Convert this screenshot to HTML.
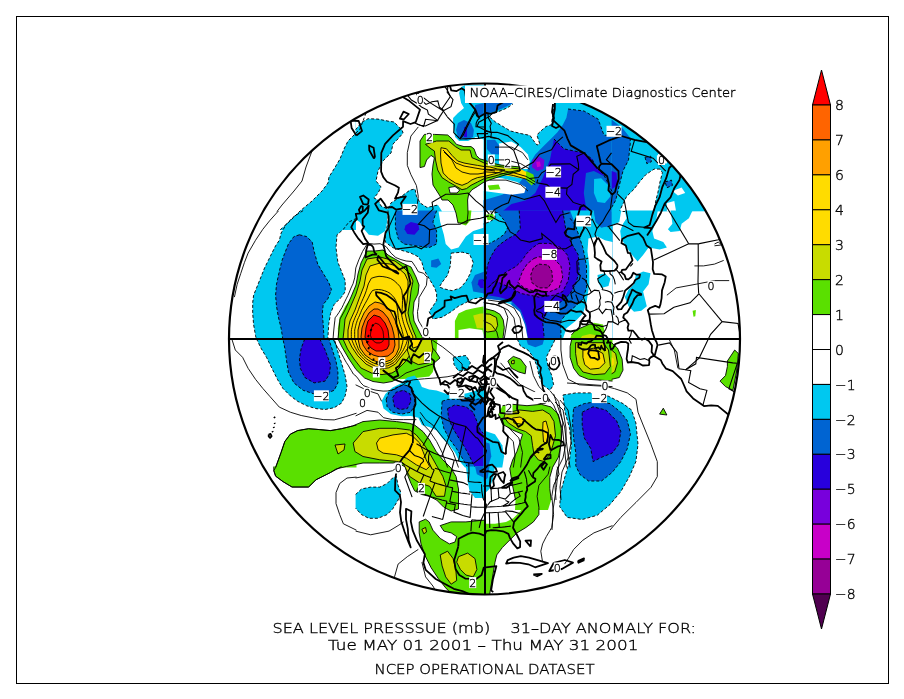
<!DOCTYPE html>
<html><head><meta charset="utf-8"><style>
html,body{margin:0;padding:0;background:#fff;}
body{width:904px;height:699px;overflow:hidden;position:relative;}
svg{position:absolute;left:0;top:0;}
text{font-family:"DejaVu Sans","Liberation Sans",sans-serif;font-weight:200;fill:#000;stroke:#000;stroke-width:0.35px;}
.cl{fill:none;stroke:#000;stroke-width:1.8;stroke-linejoin:round;}
.cp{fill:none;stroke:#000;stroke-width:0.9;}
.cn{fill:none;stroke:#000;stroke-width:0.9;stroke-dasharray:3 2;}
.bd{fill:none;stroke:#000;stroke-width:1.1;}
.fp{stroke:#000;stroke-width:0.9;}
.fn{stroke:#000;stroke-width:0.9;stroke-dasharray:3 2;}
</style></head><body>
<svg width="904" height="699" viewBox="0 0 904 699">
<defs><clipPath id="cc"><circle cx="484.5" cy="339" r="255.5"/></clipPath></defs>
<rect x="16.5" y="16.5" width="872" height="667" fill="none" stroke="#000" stroke-width="1"/>
<g clip-path="url(#cc)">
<polygon fill="#00c8f0" points="370.0,100.0 366.0,113.0 360.0,129.0 348.0,141.0 344.0,149.0 340.0,159.0 334.0,169.0 329.0,177.0 328.0,183.0 322.0,191.0 312.0,201.0 300.0,211.0 290.0,221.0 280.0,230.0 356.0,230.0 356.0,100.0"/>
<polygon fill="#00c8f0" points="303.1,210.6 356.5,210.6 356.5,218.3 348.9,222.0 343.4,229.3 337.0,234.8 336.0,247.6 337.9,262.3 341.5,271.4 345.2,280.6 345.2,291.6 341.5,297.1 334.2,304.4 330.5,313.5 328.7,324.5 327.8,339.5 256.4,339.5 255.5,335.5 253.6,324.5 252.7,313.5 252.7,302.6 253.6,295.2 257.3,286.1 261.0,276.9 264.6,267.8 268.3,260.4 271.9,253.1 275.6,245.8 279.3,240.3 281.1,233.0 286.6,223.8 293.9,216.5"/>
<polygon fill="#0064d2" points="299.4,234.8 306.7,236.6 312.2,242.1 314.1,251.3 317.7,264.1 323.2,273.3 328.7,282.4 331.5,289.7 327.8,298.9 323.2,304.4 322.3,313.5 323.2,324.5 324.1,339.5 282.9,339.5 281.1,328.2 278.4,317.2 276.5,306.2 275.6,295.2 276.5,284.2 279.3,271.4 282.0,260.4 284.8,253.1 288.4,244.0 293.9,236.6"/>
<polygon fill="#5ae000" points="356.5,289.7 345.2,306.2 339.7,317.2 337.9,328.2 337.9,339.5 356.5,339.5"/>
<polygon fill="#c8dc00" points="356.5,297.1 347.0,309.9 342.4,320.9 341.5,339.5 356.5,339.5"/>
<polygon fill="#ffdc00" points="356.5,302.6 348.9,313.5 345.2,324.5 344.3,339.5 356.5,339.5"/>
<polygon class="fn" fill="#00c8f0" points="256.4,338.6 334.2,338.6 337.9,351.8 341.5,362.8 345.2,375.6 347.0,386.6 345.2,395.8 341.5,403.1 334.2,407.7 325.1,409.5 315.9,408.6 306.7,405.8 297.6,401.3 290.3,395.8 282.9,388.4 277.4,379.3 271.9,368.3 266.5,357.3 261.0,348.2"/>
<polygon class="fn" fill="#0064d2" points="282.9,338.6 328.7,338.6 332.4,350.0 336.0,361.0 337.9,372.0 337.9,382.9 334.2,390.3 325.1,393.9 314.1,393.9 303.1,390.3 293.9,382.9 288.4,372.0 286.6,361.0 284.8,348.2"/>
<polygon class="fn" fill="#2800dc" points="304.9,338.6 319.6,338.6 325.1,350.0 330.5,364.6 329.6,373.8 325.1,381.1 314.1,382.9 304.9,377.5 300.3,368.3 299.4,359.1 301.2,348.2"/>
<polygon fill="#5ae000" points="275.6,467.5 281.1,452.5 284.8,441.5 290.3,434.2 297.6,430.6 308.6,428.7 319.6,429.6 330.5,430.6 341.5,428.7 352.5,426.0 356.5,425.1 356.5,467.5"/>
<polygon class="fp" fill="#c8dc00" points="335.1,445.2 343.4,445.2 344.3,448.9 340.6,453.4 336.0,453.4"/>
<polygon fill="#c8dc00" points="354.4,441.5 356.5,440.6 356.5,451.6 354.4,450.7"/>
<polygon fill="#5ae000" points="273.8,466.6 341.5,466.6 330.5,472.5 315.9,479.8 308.6,487.1 292.1,487.1 282.9,481.6 275.6,476.2 273.8,470.7"/>
<polygon fill="#00c8f0" points="355.6,82.6 484.5,82.6 484.5,211.5 355.6,211.5"/>
<polygon fill="#ffffff" points="355.6,110.5 355.6,129.7 361.5,122.4 368.1,118.7 378.0,119.1 388.0,121.1 394.1,122.0 397.9,126.0 402.0,130.1 403.1,133.0 397.9,139.0 393.0,144.0 391.0,153.0 382.9,161.0 378.0,171.1 376.0,181.0 381.1,187.0 378.0,193.1 373.9,198.0 378.0,200.0 381.1,206.1 388.0,209.0 391.0,202.9 397.0,199.1 403.1,195.1 410.0,190.1 415.0,189.0 416.4,196.0 420.1,202.9 427.1,207.5 432.9,206.1 438.0,205.0 442.1,211.5 484.5,211.5 484.5,82.6 355.6,82.6"/>
<polygon fill="#00c8f0" points="461.1,87.0 465.9,84.8 484.5,84.8 484.5,139.8 482.0,139.0 475.9,137.0 468.1,141.0 459.1,141.0 455.1,137.0 454.0,131.0 453.1,124.9 453.1,118.0 458.0,113.0 464.0,108.1 461.1,103.0 459.1,93.1"/>
<polygon fill="#0064d2" points="458.0,122.9 464.0,120.0 471.0,122.9 473.9,130.1 473.0,137.0 466.1,139.9 458.0,137.0 456.0,130.1"/>
<polygon fill="#2800dc" points="464.0,127.1 467.0,127.1 467.0,137.0 464.0,137.0"/>
<polygon fill="#0064d2" points="475.0,105.0 484.5,103.1 484.5,114.1 478.7,116.0 475.0,113.0"/>
<polygon fill="#00c8f0" points="355.6,210.6 387.1,210.6 387.1,222.0 385.3,231.1 378.0,235.7 368.8,234.8 364.2,229.3 359.7,222.0 355.6,219.2"/>
<polygon fill="#00c8f0" points="388.0,210.6 438.4,210.6 440.2,222.0 443.9,234.8 445.7,244.0 451.2,249.5 458.5,247.6 465.9,236.6 473.2,231.1 484.5,227.5 484.5,297.1 473.2,298.9 465.9,302.6 458.5,306.2 451.2,311.7 442.1,317.2 432.9,319.0 429.2,311.7 432.9,306.2 436.6,300.7 436.6,293.4 434.7,287.9 429.2,278.8 423.8,269.6 421.9,262.3 418.3,256.8 410.9,253.1 401.8,250.4 392.6,247.6 385.3,242.1 385.3,234.8 388.0,222.0"/>
<polygon fill="#ffffff" points="451.2,253.1 462.2,252.2 469.5,254.0 473.2,262.3 470.4,273.3 465.9,281.5 460.4,287.9 452.1,290.7 443.9,288.8 439.3,287.0 442.1,282.4 447.6,275.1 450.3,265.9"/>
<polygon fill="#0064d2" points="395.4,210.6 436.6,210.6 432.9,222.0 436.6,231.1 436.6,244.0 429.2,247.6 416.4,245.8 403.6,244.0 398.1,238.5 395.4,227.5"/>
<polygon fill="#2800dc" points="405.4,225.6 410.9,222.0 418.3,223.8 419.2,229.3 414.6,234.8 407.3,233.9 404.5,229.3"/>
<polygon fill="#0064d2" points="431.1,260.4 438.4,258.6 441.2,264.1 436.6,267.8 431.1,266.9"/>
<polygon fill="#0064d2" points="484.5,271.4 475.0,275.1 471.4,282.4 473.2,291.6 484.5,293.4"/>
<polygon fill="#2800dc" points="484.5,278.8 478.7,279.7 477.8,284.2 480.5,287.9 484.5,287.9"/>
<polygon fill="#5ae000" points="458.5,210.6 471.4,210.6 470.4,220.2 465.9,225.6 460.4,223.8"/>
<polygon fill="#5ae000" points="454.9,320.9 458.5,313.5 465.9,309.9 475.0,308.1 484.5,306.2 484.5,339.5 454.9,339.5"/>
<polygon fill="#c8dc00" points="473.2,315.4 480.5,313.5 484.5,313.5 484.5,328.2 476.9,328.2"/>
<polygon fill="#ffffff" points="458.5,330.0 469.5,328.2 482.4,330.0 484.5,339.5 458.5,339.5"/>
<polygon fill="#5ae000" points="392.6,338.6 437.5,338.6 436.6,350.0 434.7,362.8 432.9,372.0 429.2,376.5 420.1,377.5 410.9,378.4 399.9,379.3 392.6,375.6"/>
<polygon fill="#c8dc00" points="409.1,340.8 429.2,340.8 432.9,350.0 429.2,362.8 418.3,364.6 410.9,361.0 407.3,350.0"/>
<polygon fill="#00c8f0" points="381.6,401.3 385.3,393.9 392.6,387.5 401.8,382.9 407.3,377.5 414.6,375.6 419.2,381.1 421.9,387.0 429.2,389.4 436.6,390.6 443.9,393.0 451.2,395.8 458.5,394.9 467.7,393.0 476.9,390.3 484.5,384.8 484.5,467.5 465.0,467.5 458.5,459.9 454.9,452.5 449.4,445.2 442.1,437.9 436.6,430.6 429.2,426.9 421.9,425.1 418.3,417.7 410.9,415.9 401.8,416.3 390.8,414.1 383.5,408.6"/>
<polygon fill="#ffffff" points="458.5,350.0 469.5,350.0 475.0,361.0 473.2,373.8 465.9,377.5 454.9,375.6 451.2,362.8"/>
<polygon class="fn" fill="#00c8f0" points="453.1,357.3 465.9,355.5 470.4,362.8 467.7,370.1 458.5,371.0 454.0,364.6"/>
<polygon class="fn" fill="#0064d2" points="386.2,399.4 389.0,392.1 396.3,387.5 403.6,384.8 410.9,386.6 414.6,393.9 414.6,404.9 410.9,412.2 401.8,414.1 392.6,412.2 387.1,406.8"/>
<polygon class="fn" fill="#2800dc" points="392.6,397.6 396.3,392.1 403.6,390.3 410.0,393.9 410.9,401.3 407.3,408.6 399.9,409.5 394.5,406.8"/>
<polygon class="fn" fill="#0064d2" points="442.1,401.3 447.6,399.4 458.5,399.4 469.5,397.6 476.9,399.4 484.5,397.6 484.5,467.5 467.7,467.5 462.2,458.0 456.7,448.9 449.4,438.8 443.9,428.7 441.2,415.9"/>
<polygon class="fn" fill="#2800dc" points="447.6,408.6 454.9,404.9 465.9,406.8 473.2,412.2 476.9,421.4 480.5,430.6 484.5,434.2 484.5,467.5 475.0,467.5 469.5,456.2 464.0,446.1 457.6,436.1 452.1,426.9 448.5,417.7"/>
<polygon fill="#00c8f0" points="355.6,494.5 361.5,489.0 370.6,487.1 379.8,487.1 387.1,483.5 392.6,478.0 396.3,476.2 398.1,485.3 400.9,492.6 398.1,500.0 392.6,509.1 387.1,514.6 378.0,518.3 368.8,518.3 361.5,514.6 355.6,508.2"/>
<polygon class="fp" fill="#c8dc00" points="410.9,466.6 440.2,466.6 440.2,474.3 432.9,481.6 425.6,483.5 418.3,479.8 412.8,474.3"/>
<polygon class="fp" fill="#c8dc00" points="434.7,485.3 443.9,485.3 445.7,492.6 440.2,496.3 436.6,492.6"/>
<polygon fill="#5ae000" points="419.2,521.9 425.6,519.2 429.2,521.9 432.9,530.2 440.2,538.4 449.4,543.9 454.9,542.1 456.7,536.6 451.2,532.9 443.9,531.1 440.2,525.6 451.2,521.9 465.9,521.9 484.5,520.1 484.5,595.5 453.1,595.5 445.7,587.9 438.4,578.7 431.1,567.7 424.7,554.9 421.0,543.9 419.2,532.9"/>
<polygon class="fp" fill="#c8dc00" points="440.2,554.9 447.6,551.2 453.1,558.6 455.8,569.5 456.7,580.5 451.2,584.2 445.7,576.9 442.1,565.9"/>
<polygon class="fp" fill="#c8dc00" points="458.5,556.7 467.7,553.1 475.0,558.6 476.9,569.5 473.2,576.9 465.9,575.0 460.4,569.5 456.7,562.2"/>
<polygon class="fp" fill="#c8dc00" points="421.9,529.3 425.6,527.4 426.5,532.0 423.8,533.8"/>
<polygon fill="#00c8f0" points="465.9,466.6 484.5,466.6 484.5,498.1 475.0,498.1 469.5,490.8 467.7,481.6"/>
<polygon fill="#0064d2" points="475.0,466.6 484.5,466.6 484.5,478.0 476.9,474.3"/>
<polygon fill="#00c8f0" points="483.6,102.2 612.5,102.2 612.5,211.5 483.6,211.5"/>
<polygon fill="#0064d2" points="483.6,102.2 515.1,102.2 502.3,108.6 489.5,113.2 483.6,119.6"/>
<polygon fill="#0064d2" points="568.1,109.0 584.0,111.0 598.1,119.1 603.9,135.0 612.5,136.1 612.5,211.5 483.6,211.5 483.6,200.2 502.3,194.7 517.0,185.5 526.1,174.6 529.8,163.6 535.3,154.4 544.4,145.3 551.8,137.9 557.2,132.4 562.7,125.1 566.4,117.8"/>
<polygon fill="#2800dc" points="554.0,139.0 564.0,148.9 573.9,150.9 584.0,153.0 592.0,159.0 596.1,167.1 603.9,174.9 610.0,187.0 612.5,192.9 612.5,211.5 502.3,211.5 511.5,203.9 526.1,200.2 535.3,192.9 538.9,185.5 542.6,178.2 546.3,169.1 549.9,159.9"/>
<polygon fill="#7800dc" points="532.5,159.9 538.9,156.2 544.4,159.9 543.5,169.1 537.1,170.9 532.0,167.2"/>
<polygon fill="#c800c8" points="536.2,161.7 539.9,161.4 540.8,166.3 537.1,167.2"/>
<polygon fill="#0064d2" points="586.0,172.9 593.9,170.9 604.9,176.4 612.5,181.9 612.5,211.5 586.5,211.5 583.8,192.9"/>
<polygon fill="#00c8f0" points="594.1,179.0 601.2,178.2 608.5,185.5 610.4,196.5 604.9,202.9 597.5,202.0 593.9,192.9"/>
<polygon fill="#ffffff" points="499.0,143.4 511.5,141.6 520.6,147.1 527.9,154.4 529.8,161.7 527.9,169.1 520.6,169.1 506.0,167.2 499.0,163.6"/>
<polygon fill="#0064d2" points="486.9,140.1 495.0,139.8 499.0,145.3 499.0,154.4 491.3,154.1 486.9,148.9"/>
<polygon fill="#ffdc00" points="483.6,163.6 495.0,163.6 506.0,166.3 520.6,169.1 527.9,172.7 533.4,176.4 531.6,180.1 520.6,178.2 506.0,175.5 495.0,174.6 483.6,174.6"/>
<polygon fill="#5ae000" points="526.1,170.9 533.4,174.6 535.3,181.9 531.6,185.5 526.1,180.1"/>
<polygon fill="#ffffff" points="483.6,176.4 502.3,178.2 517.0,181.9 526.1,187.4 524.3,192.9 511.5,194.7 498.6,192.9 483.6,191.0"/>
<polygon fill="#5ae000" points="487.7,185.5 498.6,184.6 500.5,189.2 489.5,190.1"/>
<polygon fill="#0064d2" points="483.6,210.6 612.5,210.6 612.5,339.5 483.6,339.5"/>
<polygon fill="#00c8f0" points="483.6,210.6 484.9,210.6 486.9,211.4 497.6,212.6 504.3,220.5 507.8,227.5 504.3,234.3 496.3,239.9 489.5,243.4 484.9,245.8 483.6,245.8"/>
<polygon fill="#ffffff" points="483.6,210.6 495.0,210.6 495.0,218.3 489.5,222.0 483.6,223.8"/>
<polygon fill="#5ae000" points="485.8,214.7 493.2,213.7 494.1,219.2 487.7,220.2"/>
<polygon fill="#00c8f0" points="570.1,210.6 593.9,210.6 595.7,222.0 601.2,227.5 612.5,225.6 612.5,339.5 560.9,339.5 560.9,320.9 566.4,313.5 575.6,306.2 582.9,298.9 586.5,287.9 586.5,265.9 582.9,247.6 579.2,236.6 575.6,225.6"/>
<polygon fill="#0064d2" points="593.9,210.6 612.5,210.6 612.5,225.6 601.2,227.5 595.7,222.0"/>
<polygon fill="#2800dc" points="519.2,210.6 562.7,210.6 564.6,222.0 566.4,233.0 571.9,244.0 578.3,254.9 579.2,271.4 575.6,284.2 570.1,293.4 562.7,300.7 553.6,306.2 546.3,313.5 542.6,320.9 544.4,339.5 527.9,339.5 526.1,324.5 520.6,309.9 511.5,300.7 498.6,297.1 487.7,295.2 483.6,293.4 483.6,280.6 486.0,280.0 487.1,266.5 490.6,257.1 495.2,249.3 499.7,244.5 507.8,238.8 515.9,234.3 520.3,228.6"/>
<polygon class="fn" fill="#7800dc" points="538.9,243.4 549.9,243.4 560.9,247.6 567.3,254.9 570.1,265.9 568.2,280.6 562.7,291.6 553.6,295.2 538.9,297.1 520.6,293.4 511.5,287.9 502.3,284.2 495.0,280.6 491.3,284.2 487.7,287.9 496.3,280.0 500.8,275.5 507.8,271.1 515.9,266.5 521.9,260.6 526.5,253.8 532.2,248.0"/>
<polygon class="fn" fill="#c800c8" points="534.0,258.4 538.9,256.8 553.6,258.6 560.9,265.9 562.7,276.9 559.1,287.9 549.9,291.6 535.3,291.6 524.3,287.9 517.9,282.4 519.2,280.0 522.6,271.1 527.2,263.9"/>
<polygon class="fn" fill="#960096" points="538.9,264.1 548.1,265.0 551.8,271.4 552.7,280.6 548.1,287.9 538.9,287.9 531.6,282.4 530.7,275.1 533.4,267.8"/>
<polygon fill="#ffffff" points="588.4,238.5 597.5,236.6 604.9,240.3 612.5,242.1 612.5,339.5 562.7,339.5 566.4,328.2 575.6,320.9 582.9,313.5 586.5,302.6 589.3,284.2 589.3,265.9 587.5,251.3"/>
<polygon fill="#00c8f0" points="597.5,275.1 604.9,273.3 610.4,278.8 608.5,286.1 601.2,287.9 598.4,282.4"/>
<polygon fill="#5ae000" points="586.5,328.2 593.9,322.7 603.0,324.5 604.9,331.9 601.2,339.5 586.5,339.5"/>
<polygon fill="#ffffff" points="483.6,298.9 502.3,300.7 511.5,302.6 509.6,313.5 506.0,324.5 504.1,339.5 483.6,339.5"/>
<polygon fill="#00c8f0" points="502.3,300.7 511.5,302.6 520.6,313.5 526.1,328.2 526.1,339.5 504.1,339.5 506.0,324.5 509.6,313.5"/>
<polygon fill="#0064d2" points="511.5,302.6 520.6,309.9 526.1,324.5 527.9,339.5 517.0,339.5 515.1,324.5 511.5,313.5"/>
<polygon fill="#5ae000" points="483.6,308.1 495.0,309.9 502.3,317.2 502.3,328.2 495.0,333.7 483.6,333.7"/>
<polygon fill="#c8dc00" points="483.6,313.5 493.2,315.4 496.8,322.7 493.2,330.0 483.6,330.0"/>
<polygon class="fn" fill="#00c8f0" points="517.0,338.6 555.4,338.6 553.6,342.7 549.9,350.0 546.3,357.3 548.1,366.5 551.8,375.6 553.6,384.8 549.9,390.3 542.6,384.8 538.9,375.6 537.1,366.5 533.4,357.3 527.9,350.0 520.6,346.3"/>
<polygon fill="#0064d2" points="526.1,338.6 544.4,338.6 542.6,344.5 535.3,347.2 527.9,344.5"/>
<polygon class="fp" fill="#5ae000" points="507.8,361.0 513.3,356.4 520.6,359.1 526.1,366.5 525.2,373.8 518.8,372.0 511.5,368.3"/>
<polygon class="fp" fill="#c8dc00" points="511.5,361.0 514.2,360.1 514.2,363.7 511.5,363.7"/>
<polygon fill="#5ae000" points="571.9,338.6 612.5,338.6 612.5,381.1 601.2,380.2 588.4,379.3 579.2,375.6 573.7,368.3 570.1,357.3 570.1,346.3"/>
<polygon class="fp" fill="#c8dc00" points="575.6,342.7 603.0,342.7 608.5,350.0 610.4,366.5 604.9,373.8 593.9,374.7 582.9,372.0 577.4,364.6 575.6,353.6"/>
<polygon class="fp" fill="#ffdc00" points="582.9,350.0 593.9,348.2 603.0,353.6 604.9,362.8 599.4,368.3 590.2,369.2 584.7,364.6 582.9,357.3"/>
<polygon fill="#00c8f0" points="483.6,430.6 495.0,434.2 502.3,445.2 504.1,456.2 502.3,467.5 483.6,467.5"/>
<polygon fill="#0064d2" points="483.6,441.5 489.5,443.4 491.3,456.2 487.7,467.5 483.6,467.5"/>
<polygon fill="#5ae000" points="511.5,466.6 549.9,466.6 548.1,474.3 538.9,485.3 537.1,496.3 538.9,507.3 538.9,514.6 533.4,521.9 526.1,527.4 517.0,532.9 509.6,540.2 502.3,547.6 496.8,554.9 495.0,562.2 493.2,573.2 491.3,584.2 489.5,595.5 483.6,595.5 483.6,523.8 495.0,523.8 506.0,521.9 513.3,518.3 520.6,510.9 522.5,500.0 520.6,489.0 517.0,478.0"/>
<polygon fill="#00c8f0" points="483.6,466.6 495.0,466.6 493.2,478.0 489.5,489.0 483.6,494.5"/>
<polygon fill="#0064d2" points="483.6,466.6 489.5,466.6 487.7,478.0 483.6,481.6"/>
<polygon fill="#00c8f0" points="611.6,110.5 740.5,211.2 611.6,211.5"/>
<polygon fill="#0064d2" points="611.6,119.6 623.0,128.8 630.3,137.9 630.3,143.4 628.5,159.9 623.0,170.9 619.3,185.5 615.7,200.2 611.6,207.5"/>
<polygon fill="#2800dc" points="611.6,170.9 616.6,172.7 617.5,185.5 611.6,189.2"/>
<polygon class="fn" fill="#ffffff" points="660.0,169.1 654.1,169.1 645.9,174.6 639.5,181.9 634.0,189.2 626.6,196.5 623.0,203.9 619.3,211.5 654.1,211.5 655.9,200.2 657.8,192.9 660.0,181.9 662.4,172.7"/>
<polygon class="fn" fill="#0064d2" points="645.0,157.2 650.8,156.2 651.4,161.7 646.8,163.6"/>
<polygon class="fn" fill="#0064d2" points="665.1,181.9 671.5,180.1 672.4,185.5 666.9,187.7"/>
<polygon fill="#ffffff" points="656.9,155.3 666.9,155.3 666.9,163.6 656.9,163.6"/>
<polygon fill="#ffffff" points="672.4,191.0 681.6,187.4 685.2,192.9 677.9,195.6"/>
<polygon fill="#ffffff" points="666.9,202.9 674.3,201.1 676.1,211.5 666.9,211.5"/>
<polygon fill="#00c8f0" points="611.6,210.6 621.2,210.6 619.3,222.0 611.6,225.6"/>
<polygon fill="#00c8f0" points="624.8,210.6 657.8,210.6 655.9,222.0 652.3,231.1 654.1,238.5 663.3,242.1 666.9,247.6 659.6,249.5 648.6,247.6 643.1,254.9 637.6,261.4 632.1,254.9 626.6,247.6 621.2,238.5 620.2,231.1 623.0,223.8 626.6,218.3"/>
<polygon fill="#00c8f0" points="670.6,210.6 692.6,210.6 688.9,218.3 681.6,223.8 679.8,231.1 670.6,232.1 667.9,229.3 672.4,223.8"/>
<polygon fill="#00c8f0" points="635.8,275.1 643.1,271.4 650.5,273.3 648.6,284.2 643.1,291.6 645.0,298.9 646.8,306.2 641.3,310.8 634.0,311.7 628.5,306.2 624.8,297.1 628.5,289.7 634.0,284.2"/>
<polygon fill="#5ae000" points="692.6,310.8 695.9,309.9 695.3,316.3 693.5,316.8"/>
<polygon fill="#5ae000" points="611.6,342.7 617.5,348.2 622.1,359.1 623.0,370.1 619.3,377.5 611.6,379.3"/>
<polygon fill="#c8dc00" points="611.6,350.0 615.7,353.6 617.5,362.8 614.7,372.0 611.6,373.8"/>
<polygon fill="#ffdc00" points="611.6,357.3 613.8,359.1 613.8,364.6 611.6,366.5"/>
<polygon class="fp" fill="#5ae000" points="727.4,361.0 734.7,350.0 738.4,353.6 736.5,372.0 732.9,390.3 725.5,386.6 720.0,381.1 725.5,375.6 727.4,366.5"/>
<polygon class="fp" fill="#5ae000" points="659.6,414.1 663.3,408.2 666.9,415.0"/>
<polygon class="fp" fill="#5ae000" points="367.0,251.0 375.0,251.0 383.0,250.0 388.0,255.0 395.0,259.0 402.0,263.0 411.0,267.0 416.0,277.0 419.0,285.0 418.0,294.0 414.0,302.0 413.0,313.0 414.0,321.0 418.0,329.0 421.0,335.0 424.0,339.0 430.0,345.0 436.0,352.0 440.0,358.0 433.0,364.0 416.0,369.5 406.0,373.0 399.0,378.0 392.0,381.5 383.5,383.0 373.0,381.5 364.6,378.0 356.0,369.5 349.0,359.0 342.0,347.0 338.0,339.0 339.0,329.0 340.0,319.0 345.0,310.0 351.0,297.0 356.0,285.0 358.0,274.0 361.0,263.0"/>
<polygon class="fp" fill="#c8dc00" points="367.0,259.0 380.0,257.0 395.0,261.0 403.0,267.0 410.0,274.0 413.0,281.0 411.0,291.0 410.0,300.0 408.0,313.0 410.0,322.0 413.0,330.0 416.0,337.0 415.0,345.0 410.0,355.0 405.0,362.0 397.0,370.0 392.0,373.0 382.0,374.6 371.5,373.0 361.0,368.0 354.0,359.0 347.5,349.0 343.0,339.0 344.0,330.0 345.0,319.0 350.0,308.0 356.0,294.0 360.0,281.0 362.0,270.0"/>
<polygon class="fp" fill="#ffdc00" points="370.0,266.0 380.0,263.0 390.0,264.0 396.0,266.0 405.0,274.0 408.0,281.0 408.0,291.0 407.0,302.0 405.0,313.0 407.0,322.0 410.0,330.0 413.0,337.0 410.0,345.0 405.0,352.0 400.0,358.0 395.5,364.0 388.7,367.8 376.7,369.5 366.0,364.0 357.8,355.8 351.8,347.0 348.0,339.0 348.0,330.0 350.0,321.0 355.0,310.0 359.0,299.0 364.0,286.0 366.0,275.0"/>
<polygon class="fp" fill="#ffa000" points="375.0,302.0 380.0,303.0 386.0,306.0 391.0,312.0 395.0,320.0 398.0,330.0 399.0,338.5 399.0,348.0 396.0,355.0 391.0,360.0 385.0,362.0 378.0,362.0 372.0,360.0 365.0,355.0 360.0,348.0 358.0,339.0 358.0,330.0 360.0,322.0 364.0,313.0 369.0,306.0"/>
<polygon class="fp" fill="#ff6400" points="374.0,309.0 378.0,309.0 383.0,312.0 388.0,318.0 392.0,327.0 394.0,335.0 395.0,345.0 393.0,352.0 388.0,356.0 380.0,357.0 373.0,355.0 367.0,351.0 363.0,345.0 361.0,337.0 362.0,328.0 365.0,320.0 369.0,313.0"/>
<polygon class="fp" fill="#ff0000" points="374.0,315.0 380.0,317.0 385.0,323.0 388.0,330.0 389.0,338.5 389.0,345.0 387.0,349.0 382.0,351.0 376.0,351.0 371.0,348.0 367.0,343.0 365.0,337.0 366.0,328.0 368.0,321.0"/>
<polygon class="fp" fill="#5ae000" points="420.0,141.0 424.4,134.4 434.4,134.4 447.7,135.0 452.0,138.8 456.5,144.4 464.0,146.6 471.0,146.6 474.0,148.8 476.4,155.4 479.7,158.8 484.0,160.0 492.0,163.0 500.0,165.0 510.0,166.0 520.0,167.0 520.0,171.0 505.0,175.0 495.0,178.0 484.0,182.0 477.5,186.4 472.0,189.7 468.7,194.0 467.6,200.0 468.0,213.0 467.0,223.0 458.0,223.0 456.0,213.0 453.0,205.0 448.0,200.0 442.0,200.0 440.0,196.0 433.0,185.0 432.0,174.0 433.0,165.0 434.4,157.7 431.0,155.4 426.6,160.0 424.4,166.5 420.0,167.6"/>
<polygon class="fp" fill="#ffffff" points="448.8,187.5 455.0,186.5 459.8,190.0 457.0,193.0 450.0,193.0"/>
<polygon class="fp" fill="#c8dc00" points="425.5,144.4 436.6,141.0 448.8,141.0 455.4,146.6 461.0,150.0 470.0,150.0 472.0,157.7 480.0,161.0 484.0,163.0 495.0,166.0 510.0,168.0 520.0,169.0 520.0,170.0 505.0,173.0 495.0,176.0 484.0,178.7 477.5,182.0 471.0,185.3 466.5,188.6 462.0,189.7 456.5,186.4 448.8,182.0 442.0,177.6 437.7,170.0 435.5,160.0 434.4,151.0 431.0,148.8"/>
<polygon class="fp" fill="#ffdc00" points="441.0,147.7 446.5,148.8 452.0,155.4 457.6,161.0 464.0,163.0 471.0,164.3 477.5,165.4 484.0,166.5 490.0,167.0 497.4,169.0 505.0,170.0 497.4,173.0 490.0,175.0 484.0,176.5 477.5,177.6 472.0,179.8 467.6,183.0 462.0,185.3 455.4,183.0 448.8,178.7 443.2,173.0 441.0,163.0 440.5,154.0"/>
<polygon class="fp" fill="#5ae000" points="273.8,470.7 275.6,467.5 281.0,452.5 284.8,441.5 290.3,434.2 297.6,430.6 308.6,428.7 319.6,429.6 330.5,430.6 341.5,428.7 352.5,426.0 363.0,421.6 379.8,420.0 396.4,421.6 409.6,423.3 414.6,425.0 423.0,431.6 429.6,440.0 436.2,451.5 442.8,459.8 451.0,468.0 456.0,476.4 458.5,489.0 458.5,498.0 458.5,509.0 451.2,511.0 443.9,507.3 436.6,500.0 429.2,496.3 421.9,494.5 414.6,490.8 411.0,483.5 407.3,474.3 405.4,467.0 401.3,464.8 399.7,461.4 393.0,463.0 379.8,463.0 363.0,463.0 346.6,466.4 336.0,469.0 330.5,472.5 316.0,479.8 308.6,487.0 292.0,487.0 283.0,481.6 275.6,476.0"/>
<polygon class="fp" fill="#c8dc00" points="353.2,443.0 363.0,431.6 379.8,428.3 396.4,428.3 409.6,430.0 416.3,435.0 423.0,443.0 429.6,453.0 436.2,464.8 442.8,476.4 446.1,486.3 444.5,496.3 436.2,496.3 429.6,486.3 419.6,483.0 409.6,476.4 403.0,463.0 396.4,461.4 379.8,459.8 363.0,456.5 354.9,451.5"/>
<polygon class="fp" fill="#c8dc00" points="335.0,445.0 345.0,444.0 344.0,450.0 338.0,454.0"/>
<polygon class="fp" fill="#ffdc00" points="378.1,449.8 376.5,443.0 379.8,438.2 393.0,434.9 406.3,433.2 413.0,436.5 419.6,443.0 423.0,451.5 426.2,459.8 429.6,466.4 426.2,469.7 416.3,464.8 406.3,458.1 396.4,454.8 383.1,453.1"/>
<polygon fill="#ffffff" points="513.0,103.0 554.0,103.0 553.0,113.3 551.3,124.8 546.0,126.5 538.9,132.7 537.0,135.4 539.8,144.0 537.0,145.0 533.6,140.7 530.0,135.4 521.2,133.6 510.5,131.0 501.7,125.7 495.5,122.0 489.3,116.8 492.0,114.0 500.0,111.0 507.0,108.0"/>
<polygon class="fn" fill="#00c8f0" points="562.9,395.0 575.8,392.9 590.8,392.9 608.0,396.0 623.0,403.6 631.6,410.0 635.9,423.0 638.0,444.4 635.9,461.6 629.4,476.6 620.8,491.6 610.0,504.5 597.2,515.3 582.2,519.5 567.2,517.4 559.7,506.7 560.7,491.6 565.0,476.6 569.3,461.6 571.5,444.4 569.3,427.2 565.0,412.2"/>
<polygon class="fn" fill="#0064d2" points="573.6,408.0 584.3,403.6 597.2,401.5 610.0,403.6 620.8,412.2 627.3,420.8 630.5,433.7 627.3,448.7 620.8,461.6 612.3,472.3 601.5,481.0 588.6,481.0 580.0,474.5 575.8,465.9 575.8,453.0 573.6,438.0 572.5,423.0"/>
<polygon class="fn" fill="#2800dc" points="582.2,412.2 593.0,406.8 605.8,410.0 616.6,420.8 620.8,431.5 618.7,444.4 612.3,453.0 601.5,457.3 593.0,461.6 590.8,448.7 584.3,438.0 582.2,425.0"/>
<polygon fill="#5ae000" points="502.6,405.7 512.6,404.3 527.0,405.7 541.2,404.3 551.2,407.0 558.4,414.3 561.3,428.6 561.3,443.0 558.4,457.2 552.7,467.2 549.8,477.3 549.8,488.7 551.2,500.0 548.0,510.0 515.0,510.0 515.5,500.0 512.6,485.8 511.2,477.3 509.8,468.7 512.6,460.0 516.9,451.5 519.8,443.0 522.6,434.3 512.6,430.0 502.6,424.3 498.3,414.3"/>
<polygon class="fp" fill="#c8dc00" points="505.5,412.9 519.8,410.0 532.6,411.4 542.7,410.0 549.8,414.3 554.0,421.5 555.5,435.8 552.7,445.8 549.8,454.4 544.0,461.5 538.4,460.0 534.0,454.4 532.6,445.8 531.2,435.8 525.5,431.5 517.0,428.6 508.3,422.9 504.0,417.2"/>
<polygon class="fp" fill="#ffdc00" points="512.6,418.0 520.0,417.0 525.5,420.0 522.0,424.3 514.0,423.0"/>
<polygon class="fp" fill="#ffdc00" points="543.0,422.0 546.0,421.0 548.4,430.0 547.0,443.0 543.5,442.0 542.7,430.0"/>
<polygon class="fp" fill="#c8dc00" points="409.1,338.6 431.1,338.6 432.9,350.0 429.2,362.8 418.3,364.6 410.9,361.0 407.3,350.0"/>
<polygon class="fp" fill="#ffdc00" points="410.9,338.6 421.9,338.6 418.3,346.3 412.8,348.2"/>
<polygon fill="#ffffff" points="485.0,299.0 497.0,300.0 510.0,304.0 520.0,312.0 525.0,325.0 528.0,340.0 503.2,340.0 504.3,327.5 503.2,319.8 499.9,314.2 494.3,311.0 485.5,308.7 485.0,305.0"/>
<polygon fill="#5ae000" points="484.0,309.5 485.5,308.7 494.3,311.0 499.9,314.2 503.2,319.8 504.3,327.5 503.2,336.4 503.2,340.0 484.0,340.0"/>
<polygon fill="#c8dc00" points="484.0,313.8 489.9,314.2 496.5,317.6 497.7,325.3 495.4,330.8 487.7,332.0 484.0,331.0"/>
<polygon fill="#5ae000" points="571.4,334.9 575.0,331.0 580.6,328.0 589.8,324.0 594.3,324.6 600.0,329.0 603.5,337.0 604.0,339.5 570.0,339.5"/>
<polygon fill="#c8dc00" points="582.0,336.0 590.0,334.0 600.0,336.0 602.0,339.5 580.0,339.5"/>
<polyline class="cp" points="312.0,151.0 306.0,167.0 302.0,181.0 294.0,191.0 282.0,205.0 277.0,211.5"/>
<polyline class="cn" points="366.0,113.0 360.0,129.0 348.0,141.0 344.0,149.0 340.0,159.0 334.0,169.0 329.0,177.0 328.0,183.0 322.0,191.0 312.0,201.0 300.0,211.0 290.0,221.0 280.0,230.0"/>
<polyline class="cn" points="303.1,210.6 293.9,216.5 286.6,223.8 281.1,233.0 279.3,240.3 275.6,245.8 271.9,253.1 268.3,260.4 264.6,267.8 261.0,276.9 257.3,286.1 253.6,295.2 252.7,302.6 252.7,313.5 253.6,324.5 255.5,335.5 256.4,339.5"/>
<polyline class="cn" points="356.5,218.3 348.9,222.0 343.4,229.3 337.0,234.8 336.0,247.6 337.9,262.3 341.5,271.4 345.2,280.6 345.2,291.6 341.5,297.1 334.2,304.4 330.5,313.5 328.7,324.5 327.8,339.5"/>
<polyline class="cn" points="299.4,234.8 306.7,236.6 312.2,242.1 314.1,251.3 317.7,264.1 323.2,273.3 328.7,282.4 331.5,289.7 327.8,298.9 323.2,304.4 322.3,313.5 323.2,324.5 324.1,339.5"/>
<polyline class="cn" points="282.9,339.5 281.1,328.2 278.4,317.2 276.5,306.2 275.6,295.2 276.5,284.2 279.3,271.4 282.0,260.4 284.8,253.1 288.4,244.0 293.9,236.6 299.4,234.8"/>
<polyline class="cp" points="278.4,211.0 270.1,220.2 262.8,229.3 255.5,240.3 248.1,253.1 244.5,262.3 240.8,273.3 237.2,284.2 234.4,297.1"/>
<polyline class="cp" points="231.7,338.6 235.3,350.0 242.6,357.3 248.1,368.3 255.5,379.3 262.8,388.4 270.1,396.7 279.3,407.1 290.3,412.2 301.2,415.5 312.2,417.7 323.2,419.6 334.2,419.9 345.2,416.8 356.5,413.2"/>
<polyline class="cp" points="275.6,467.5 281.1,452.5 284.8,441.5 290.3,434.2 297.6,430.6 308.6,428.7 319.6,429.6 330.5,430.6 341.5,428.7 352.5,426.0 356.5,425.1"/>
<polyline class="cl" points="274.1,416.8 274.9,418.1"/>
<polyline class="cl" points="274.5,422.9 274.9,423.8"/>
<polyline class="cl" points="273.6,426.9 274.0,428.0"/>
<polyline class="cl" points="272.3,431.1 272.9,432.2"/>
<polyline class="cl" points="268.7,434.6 270.5,433.9 271.6,436.1 270.1,437.9 268.7,436.4 268.7,434.6"/>
<polyline class="cp" points="341.5,466.6 330.5,472.5 315.9,479.8 308.6,487.1 292.1,487.1 282.9,481.6 275.6,476.2 273.8,470.7 273.8,466.6"/>
<polyline class="cp" points="356.5,477.1 347.0,478.0 339.7,483.5 336.0,492.6 336.0,503.6 339.7,514.6 343.4,523.8 356.5,530.2"/>
<polyline class="cn" points="355.6,129.7 361.5,122.4 368.1,118.7 378.0,119.1 388.0,121.1 394.1,122.0 397.9,126.0 402.0,130.1 403.1,133.0 397.9,139.0 393.0,144.0 391.0,153.0 382.9,161.0 378.0,171.1 376.0,181.0 381.1,187.0 378.0,193.1 373.9,198.0 378.0,200.0 381.1,206.1 388.0,209.0 391.0,202.9 397.0,199.1 403.1,195.1 410.0,190.1 415.0,189.0 416.4,196.0 420.1,202.9 427.1,207.5 432.9,206.1 438.0,205.0"/>
<polyline class="cp" points="418.3,126.9 410.9,136.1 407.3,152.6 407.3,165.4 410.9,174.6 416.4,185.5 418.3,196.5 416.4,211.2"/>
<polyline class="cn" points="388.0,210.6 388.0,222.0 385.3,234.8 385.3,242.1 392.6,247.6 401.8,250.4 410.9,253.1 418.3,256.8 421.9,262.3 423.8,269.6 429.2,278.8 434.7,287.9 436.6,293.4 436.6,300.7 432.9,306.2 429.2,311.7 432.9,319.0 442.1,317.2 451.2,311.7 458.5,306.2 465.9,302.6 473.2,298.9 484.5,297.1"/>
<polyline class="cn" points="451.2,253.1 462.2,252.2 469.5,254.0 473.2,262.3 470.4,273.3 465.9,281.5 460.4,287.9 452.1,290.7 443.9,288.8 439.3,287.0 442.1,282.4 447.6,275.1 450.3,265.9 451.2,253.1"/>
<polyline class="cn" points="436.6,210.6 432.9,222.0 436.6,231.1 436.6,244.0 429.2,247.6 416.4,245.8 403.6,244.0 398.1,238.5 395.4,227.5 395.4,210.6"/>
<polyline class="cp" points="355.6,384.8 367.0,390.3 378.0,393.9 381.6,401.3"/>
<polyline class="cp" points="355.6,415.9 367.0,410.4 378.0,412.2 383.5,417.7 392.6,419.6 403.6,419.6 416.4,419.6"/>
<polyline class="cp" points="420.1,412.2 425.6,419.6 432.9,425.1 440.2,434.2 447.6,443.4 453.1,452.5 458.5,467.5"/>
<polyline class="cp" points="420.1,417.7 423.8,425.1 429.2,430.6 436.6,441.5 442.1,452.5 447.6,467.5"/>
<polyline class="cn" points="355.6,494.5 361.5,489.0 370.6,487.1 379.8,487.1 387.1,483.5 392.6,478.0 396.3,476.2 398.1,485.3 400.9,492.6 398.1,500.0 392.6,509.1 387.1,514.6 378.0,518.3 368.8,518.3 361.5,514.6 355.6,508.2"/>
<polyline class="cp" points="419.2,521.9 425.6,519.2 429.2,521.9 432.9,530.2 440.2,538.4 449.4,543.9 454.9,542.1 456.7,536.6 451.2,532.9 443.9,531.1 440.2,525.6 451.2,521.9 465.9,521.9 484.5,520.1"/>
<polyline class="cp" points="419.2,521.9 419.2,532.9 421.0,543.9 424.7,554.9 431.1,567.7 438.4,578.7 445.7,587.9 453.1,595.5"/>
<polyline class="cp" points="355.6,478.0 374.3,474.3 392.6,470.7 398.1,466.6"/>
<polyline class="cp" points="355.6,531.1 370.6,534.8 389.0,531.1 398.1,525.6 403.6,521.9"/>
<polyline class="cp" points="394.5,576.9 398.1,564.1 407.3,556.7 418.3,549.4"/>
<polyline class="cp" points="421.9,562.2 425.6,576.9 432.9,586.0 438.4,595.5"/>
<polyline class="cn" points="568.1,109.0 584.0,111.0 598.1,119.1 603.9,135.0 612.5,136.1"/>
<polyline class="cn" points="554.0,139.0 564.0,148.9 573.9,150.9 584.0,153.0 592.0,159.0 596.1,167.1 603.9,174.9 610.0,187.0 612.5,192.9"/>
<polyline class="cp" points="483.6,169.1 498.6,170.0 513.3,172.7 526.1,176.4 535.3,181.9"/>
<polyline class="cp" points="483.6,171.8 498.6,172.7 513.3,175.5 526.1,179.1 535.3,184.6"/>
<polyline class="cp" points="489.5,159.9 506.0,159.9 520.6,163.6 529.8,169.1"/>
<polyline class="cp" points="489.5,180.1 506.0,180.1 520.6,184.6 527.9,191.0"/>
<polyline class="cp" points="495.0,147.1 511.5,147.1 522.5,152.6 527.9,159.9"/>
<polyline class="cn" points="519.2,210.6 520.3,228.6 515.9,234.3 507.8,238.8 499.7,244.5 495.2,249.3 490.6,257.1 487.1,266.5 486.0,280.0 483.6,280.6"/>
<polyline class="cn" points="484.9,210.6 486.9,211.4 497.6,212.6 504.3,220.5 507.8,227.5 504.3,234.3 496.3,239.9 489.5,243.4 484.9,245.8"/>
<polyline class="cn" points="562.7,210.6 564.6,222.0 566.4,233.0 571.9,244.0 578.3,254.9 579.2,271.4 575.6,284.2 570.1,293.4 562.7,300.7 553.6,306.2 546.3,313.5 542.6,320.9 544.4,339.5"/>
<polyline class="cn" points="495.0,210.6 495.0,218.3 489.5,222.0 483.6,223.8"/>
<polyline class="cn" points="570.1,218.3 575.6,225.6 579.2,236.6 582.9,247.6 586.5,265.9 586.5,287.9 582.9,298.9 575.6,306.2 566.4,313.5 560.9,320.9 560.9,339.5"/>
<polyline class="cp" points="483.6,302.6 495.0,304.4 504.1,308.1 507.8,317.2 506.0,328.2 504.1,339.5"/>
<polyline class="cp" points="483.6,320.9 491.3,324.5 496.8,331.9 498.6,339.5"/>
<polyline class="cp" points="571.9,338.6 570.1,346.3 570.1,357.3 573.7,368.3 579.2,375.6 588.4,379.3 601.2,380.2 612.5,381.1"/>
<polyline class="cp" points="560.9,338.6 560.9,350.0 562.7,364.6 568.2,379.3 579.2,384.8 593.9,385.7 612.5,386.6"/>
<polyline class="cp" points="553.6,393.9 557.2,404.9 560.9,415.9 564.6,426.9 566.4,441.5 568.2,456.2 570.1,467.5"/>
<polyline class="cp" points="546.3,395.8 553.6,404.9 559.1,417.7 562.7,430.6 564.6,448.9 566.4,467.5"/>
<polyline class="cp" points="507.8,426.9 518.8,437.9 522.5,452.5 520.6,467.5"/>
<polyline class="cp" points="502.3,430.6 513.3,441.5 515.1,456.2 513.3,467.5"/>
<polyline class="cp" points="529.8,361.0 533.4,375.6 538.9,386.6 546.3,393.9"/>
<polyline class="cp" points="500.5,362.8 511.5,375.6 520.6,384.8 535.3,392.1"/>
<polyline class="cp" points="549.9,466.6 548.1,474.3 538.9,485.3 537.1,496.3 538.9,507.3 538.9,514.6 533.4,521.9 526.1,527.4 517.0,532.9 509.6,540.2 502.3,547.6 496.8,554.9 495.0,562.2 493.2,573.2 491.3,584.2 489.5,595.5"/>
<polyline class="cp" points="557.2,466.6 559.1,474.3 553.6,485.3 551.8,496.3 553.6,514.6 551.8,527.4 546.3,536.6 542.6,543.9 540.8,551.2 542.6,562.2"/>
<polyline class="cp" points="612.5,525.6 593.9,532.9 582.9,540.2 573.7,549.4 568.2,558.6 564.6,564.1"/>
<polyline class="cn" points="630.3,137.9 630.3,143.4 628.5,159.9 623.0,170.9 619.3,185.5 615.7,200.2 611.6,207.5"/>
<polyline class="cp" points="694.4,265.9 703.6,265.9 714.5,264.1 723.7,260.4"/>
<polyline class="cp" points="666.9,295.2 676.1,287.9 696.2,284.2 714.5,280.6 729.2,280.6"/>
<polyline class="cp" points="714.5,244.0 718.2,242.1 721.9,244.9 714.5,245.8"/>
<polyline class="cp" points="611.6,342.7 617.5,348.2 622.1,359.1 623.0,370.1 619.3,377.5 611.6,379.3"/>
<polyline class="cp" points="611.6,350.0 615.7,353.6 617.5,362.8 614.7,372.0 611.6,373.8"/>
<polyline class="cp" points="668.8,338.6 674.3,350.0 677.9,368.3"/>
<polyline class="cp" points="425.7,333.0 428.3,336.6 433.6,341.0 442.7,347.0 452.1,354.5 462.1,364.0 462.3,371.0 456.0,375.0 447.1,376.8 438.5,377.7 431.0,378.3 424.4,378.8 418.7,379.3 413.5,379.8 409.3,380.9 405.8,382.8 402.4,385.1 398.7,386.7 395.2,389.0 391.3,390.2 387.2,391.0 383.1,391.1 379.0,390.6 375.0,390.0 371.1,388.9 367.5,387.1 363.8,385.8 360.8,382.8 358.4,379.1 356.0,376.1 353.3,374.0 351.5,370.8 349.7,367.9 348.1,365.1 346.4,362.6 344.9,360.0 343.5,357.4 342.1,354.8 340.7,352.3 339.0,349.9 337.5,347.4 336.0,344.7 334.6,342.0 333.0,339.2 333.3,336.1 333.5,333.0 333.8,330.0 334.1,327.0 334.4,324.0 334.8,320.9 335.1,317.8 337.1,315.2 338.8,312.7 340.4,310.1 342.0,307.6 343.3,304.8 344.7,301.8 346.2,298.8 347.8,295.6 349.4,292.0 351.0,288.0 353.0,283.8 354.7,277.9 355.8,267.9 358.8,259.9 362.6,251.4 367.6,243.3 373.9,244.1 380.1,243.7 386.1,246.6 391.1,253.2 395.8,257.5 400.9,259.6 406.1,261.0 411.9,261.5 415.4,266.6 418.3,271.7 423.7,273.3 427.2,277.3 426.4,285.3 419.0,297.7 418.8,302.7 418.4,307.2 417.5,311.5 417.7,314.9 417.9,318.1 418.7,321.0 420.4,323.8 422.1,326.7 423.9,329.7 425.7,333.0"/>
<polyline class="cp" points="407.0,333.0 407.7,335.1 408.0,337.4 407.5,339.5 406.9,341.6 406.3,343.7 405.4,345.6 404.4,347.6 403.5,349.6 402.4,351.5 401.2,353.3 399.9,355.1 398.6,357.0 397.2,358.8 395.7,360.7 394.0,362.5 392.0,363.7 389.8,364.8 387.6,365.8 385.3,366.1 382.9,366.4 380.5,366.6 378.2,366.9 375.8,366.5 373.6,365.4 371.5,364.4 369.4,363.3 367.5,362.2 365.7,360.9 364.1,359.4 362.6,357.9 361.2,356.4 359.9,354.9 358.7,353.4 357.6,351.8 356.6,350.2 355.7,348.5 354.8,346.9 354.0,345.2 353.3,343.5 352.6,341.9 352.0,340.2 351.4,338.4 351.3,336.6 351.3,334.8 351.3,333.0 351.3,331.2 351.5,329.4 351.9,327.7 352.3,325.9 352.7,324.1 353.1,322.4 353.8,320.6 354.5,318.9 355.2,317.2 356.0,315.4 356.9,313.5 357.7,311.6 358.5,309.4 359.4,307.0 360.5,304.4 361.7,301.7 363.1,298.6 364.7,295.0 366.4,290.4 368.3,283.9 371.3,278.3 375.0,277.1 379.0,276.3 382.9,276.6 386.8,277.3 390.6,278.5 394.0,280.6 397.1,283.4 399.8,286.3 401.7,290.2 402.4,295.4 402.5,300.4 402.4,304.8 402.2,308.7 401.9,312.1 401.7,315.1 402.1,317.3 402.6,319.4 403.1,321.4 403.6,323.3 404.3,325.2 404.9,327.1 405.6,329.0 406.3,331.0 407.0,333.0"/>
<polyline class="cp" points="402.7,333.0 403.1,334.8 403.3,336.7 403.2,338.6 403.0,340.4 402.7,342.3 402.2,344.2 401.7,346.1 401.2,348.2 400.6,350.1 399.5,351.9 398.5,353.8 397.4,355.7 396.1,357.4 394.6,359.1 393.0,360.7 391.1,362.0 389.1,362.8 387.0,363.7 384.7,364.1 382.5,364.2 380.3,364.3 378.1,364.4 375.9,363.9 373.8,363.1 371.8,362.3 370.0,361.1 368.2,360.0 366.6,358.8 365.0,357.5 363.6,356.2 362.4,354.7 361.2,353.2 360.1,351.8 359.1,350.3 358.2,348.8 357.6,347.1 357.0,345.5 356.4,344.0 355.9,342.4 355.4,340.9 355.0,339.3 354.7,337.7 354.7,336.1 354.7,334.6 354.7,333.0 354.7,331.4 354.7,329.9 355.1,328.3 355.4,326.8 355.8,325.3 356.2,323.7 356.7,322.2 357.2,320.6 357.8,319.1 358.5,317.5 359.3,315.9 360.0,314.1 360.8,312.3 361.6,310.2 362.7,308.2 363.8,306.0 365.1,303.6 366.6,300.9 368.2,297.9 370.1,294.0 372.5,290.5 375.5,289.7 378.5,289.5 381.5,289.9 384.5,290.7 387.3,291.8 389.9,293.2 392.2,295.5 394.2,297.7 395.8,300.5 396.7,303.8 397.2,307.1 397.6,310.1 397.9,312.9 398.1,315.3 398.3,317.5 398.8,319.4 399.3,321.2 399.7,322.9 400.2,324.6 400.7,326.2 401.3,327.8 401.8,329.5 402.2,331.2 402.7,333.0"/>
<polyline class="cp" points="383.2,333.0 383.3,333.4 383.3,333.9 383.4,334.4 383.5,334.9 383.5,335.4 383.6,335.9 383.6,336.5 383.6,337.1 383.6,337.8 383.6,338.5 383.6,339.4 383.4,340.1 383.0,340.7 382.7,341.4 382.2,341.9 381.5,342.2 380.8,342.5 380.2,342.7 379.5,342.9 378.7,342.9 378.0,342.9 377.3,342.9 376.7,342.9 376.0,342.6 375.4,342.3 374.8,341.9 374.2,341.6 373.7,341.2 373.3,340.7 372.9,340.2 372.5,339.7 372.1,339.3 371.8,338.8 371.5,338.4 371.3,337.8 371.1,337.3 370.9,336.8 370.8,336.3 370.6,335.8 370.5,335.4 370.4,334.9 370.5,334.4 370.5,333.9 370.6,333.4 370.6,333.0 370.7,332.6 370.7,332.1 370.8,331.7 370.8,331.2 370.9,330.8 370.9,330.3 371.1,329.8 371.2,329.4 371.3,328.9 371.5,328.4 371.6,327.8 371.8,327.2 372.0,326.6 372.3,326.1 372.8,325.7 373.2,325.2 373.7,324.8 374.2,324.3 374.7,323.8 375.3,323.2 376.0,323.3 376.7,323.5 377.3,323.8 377.9,324.0 378.6,324.2 379.1,324.7 379.5,325.2 379.9,325.7 380.3,326.2 380.7,326.6 381.0,327.0 381.3,327.4 381.6,327.9 381.8,328.4 382.0,328.8 382.2,329.3 382.3,329.7 382.5,330.1 382.7,330.5 382.8,330.9 383.0,331.3 383.1,331.7 383.1,332.1 383.2,332.6 383.2,333.0"/>
<polyline class="cp" points="443.0,150.0 450.0,157.0 456.0,163.0 464.0,166.0 475.0,168.0 484.0,169.5 495.0,171.0"/>
<polyline class="cp" points="444.0,152.0 452.0,160.0 456.0,168.0 462.0,172.0 470.0,174.0 478.0,174.0 484.0,173.0"/>
<polyline class="cn" points="554.0,104.0 553.0,113.3 551.3,124.8 546.0,126.5 538.9,132.7 537.0,135.4 539.8,144.0 537.0,145.0 533.6,140.7 530.0,135.4 521.2,133.6 510.5,131.0 501.7,125.7 495.5,122.0 489.3,116.8 492.0,114.0 500.0,111.0 507.0,108.0 513.0,104.0"/>
<polyline class="cl" points="553.0,104.0 552.0,112.0 554.0,118.0 552.0,126.0 556.0,128.0 560.0,126.0"/>
<polyline class="cp" points="567.0,383.0 601.5,385.4 614.4,388.6 627.3,392.9 636.0,399.3 638.0,412.2 642.3,423.0 651.0,444.4 657.3,461.6 657.3,476.6 651.0,487.3 636.0,502.4 620.8,517.4 610.0,530.0"/>
<polyline class="cp" points="550.0,390.7 558.6,401.5 562.9,423.0 560.7,444.4 558.6,465.9 556.4,487.3 553.0,510.0 552.0,530.0"/>
<polyline class="cp" points="502.6,405.7 512.6,404.3 527.0,405.7 541.2,404.3 551.2,407.0 558.4,414.3 561.3,428.6 561.3,443.0 558.4,457.2 552.7,467.2 549.8,477.3 549.8,488.7 551.2,500.0"/>
<polyline class="cp" points="498.3,414.3 502.6,424.3 512.6,430.0 522.6,434.3 519.8,443.0 516.9,451.5 512.6,460.0 509.8,468.7 511.2,477.3 512.6,485.8 515.5,500.0"/>
<polyline class="cp" points="555.0,402.0 563.0,410.0 566.0,428.0 566.0,443.0 563.0,458.0 557.0,470.0 555.0,485.0 556.0,500.0"/>
<polyline class="cp" points="560.0,400.0 568.0,410.0 571.0,428.0 571.0,443.0 568.0,458.0 562.0,472.0 560.0,487.0 561.0,500.0"/>
<polyline class="cl" points="440.0,385.0 445.0,381.0 450.0,384.0 455.0,380.0 460.0,383.0 465.0,378.0 470.0,381.0 475.0,376.0 480.0,379.0 485.0,375.0"/>
<polyline class="cl" points="453.0,378.0 458.0,374.0 463.0,376.0 468.0,372.0 473.0,374.0 478.0,370.0 483.0,373.0 488.0,369.0 492.0,372.0"/>
<polyline class="cl" points="462.0,367.0 467.0,370.0 472.0,366.0 477.0,369.0 482.0,365.0 487.0,368.0 492.0,364.0"/>
<polyline class="cl" points="484.0,355.0 483.0,362.0 486.0,368.0 484.0,375.0 487.0,382.0 485.0,390.0 488.0,398.0 486.0,405.0"/>
<polyline class="cl" points="478.0,382.0 482.0,388.0 478.0,394.0 483.0,399.0 480.0,404.0"/>
<polyline class="cl" points="490.0,376.0 495.0,382.0 500.0,388.0 505.0,392.0 510.0,398.0"/>
<polyline class="cl" points="465.0,386.0 470.0,390.0 475.0,387.0 478.0,392.0"/>
<polyline class="cl" points="490.0,360.0 495.0,356.0 500.0,352.0 498.0,346.0 503.0,342.0"/>
<polyline class="cl" points="494.0,385.0 490.0,392.0 494.0,398.0 490.0,404.0 494.0,410.0"/>
<polyline class="cl" points="470.0,395.0 474.0,400.0 470.0,405.0 475.0,410.0"/>
<polyline class="cl" points="444.0,390.0 448.0,394.0 452.0,390.0 456.0,394.0 460.0,392.0"/>
<polyline class="cl" points="497.0,366.0 503.0,370.0 509.0,368.0 514.0,374.0 518.0,378.0"/>
<polyline class="cp" points="484.0,309.5 485.5,308.7 494.3,311.0 499.9,314.2 503.2,319.8 504.3,327.5 503.2,336.4 503.2,340.0"/>
<polyline class="cp" points="484.0,313.8 489.9,314.2 496.5,317.6 497.7,325.3 495.4,330.8 487.7,332.0 484.0,331.0"/>
<polyline class="cp" points="486.0,303.0 498.0,305.0 508.0,310.0 514.0,318.0 516.0,330.0 517.0,340.0"/>
<polyline class="cp" points="488.0,300.0 502.0,302.0 514.0,308.0 520.0,318.0 522.0,330.0 523.0,340.0"/>
<polyline class="cp" points="571.4,334.9 575.0,331.0 580.6,328.0 589.8,324.0 594.3,324.6 600.0,329.0 603.5,337.0 604.0,339.5"/>
<polyline class="bd" points="416.5,443.7 425.2,448.9 434.2,453.3 443.6,457.0 453.3,459.9 463.2,462.0 473.2,463.4"/>
<polyline class="bd" points="419.1,457.0 421.1,458.1 423.2,459.2"/>
<polyline class="bd" points="409.4,450.3 414.5,455.5 419.1,457.0"/>
<polyline class="bd" points="427.8,450.3 423.9,458.0"/>
<polyline class="bd" points="423.2,459.2 423.5,461.3 420.9,463.8 419.4,466.9 417.0,471.5"/>
<polyline class="bd" points="400.9,462.0 405.7,465.1 410.6,468.0 415.6,470.8 420.7,473.3 425.9,475.7 431.2,477.8"/>
<polyline class="bd" points="410.1,467.8 404.8,477.0 412.1,497.1"/>
<polyline class="bd" points="423.9,474.8 416.6,491.1"/>
<polyline class="bd" points="416.8,491.1 421.7,493.2 426.6,495.1 431.7,496.9 436.7,498.5 441.9,500.0 447.0,501.3"/>
<polyline class="bd" points="434.8,482.9 423.2,516.5"/>
<polyline class="bd" points="429.8,451.2 428.6,456.2 428.5,461.8 432.0,468.9 434.3,469.8"/>
<polyline class="bd" points="434.2,469.7 429.8,481.1"/>
<polyline class="bd" points="430.0,481.1 433.7,482.5 437.5,483.8 441.3,484.9 445.1,486.0 449.0,487.0 452.9,487.9"/>
<polyline class="bd" points="434.9,468.2 437.6,469.1 440.2,470.1 442.9,470.9 445.6,471.8 448.3,472.5 451.0,473.2"/>
<polyline class="bd" points="454.2,460.1 447.5,486.7"/>
<polyline class="bd" points="452.7,487.9 449.7,501.9"/>
<polyline class="bd" points="446.9,501.2 442.7,519.4"/>
<polyline class="bd" points="431.9,516.5 433.7,517.0 435.5,517.5 437.4,518.0 439.2,518.5 441.0,519.0 442.9,519.4"/>
<polyline class="bd" points="451.9,469.9 454.7,470.6 457.6,471.2 460.5,471.8 463.4,472.3 466.3,472.7 469.2,473.1"/>
<polyline class="bd" points="449.4,479.9 463.0,482.6 467.9,485.0"/>
<polyline class="bd" points="452.1,491.3 455.1,491.9 458.1,492.5 461.1,493.0 464.1,493.4 467.1,493.8 470.1,494.1"/>
<polyline class="bd" points="449.9,501.9 453.4,502.6 456.9,503.2 460.5,503.8 464.0,504.3 467.6,504.7 471.1,505.0"/>
<polyline class="bd" points="446.6,503.0 455.3,504.8 454.0,512.1 462.8,515.6 470.4,517.5"/>
<polyline class="bd" points="468.8,462.9 469.0,473.1 468.3,481.6"/>
<polyline class="bd" points="468.3,481.6 470.5,481.8 472.7,482.0 474.9,482.2 477.1,482.3 479.3,482.4 481.5,482.5"/>
<polyline class="bd" points="469.0,491.8 470.9,492.0 472.8,492.2 474.7,492.3 476.6,492.4 478.6,492.5 480.5,492.6"/>
<polyline class="bd" points="472.0,494.2 470.1,517.5"/>
<polyline class="bd" points="471.8,519.9 473.4,520.0 475.0,520.1 476.6,520.2 478.2,520.2 479.8,520.3 481.3,520.3"/>
<polyline class="bd" points="471.7,519.9 470.9,531.4"/>
<polyline class="bd" points="471.0,506.8 473.2,507.0 475.5,507.1 477.7,507.2 480.0,507.3 482.2,507.3 484.5,507.3"/>
<polyline class="bd" points="481.5,484.2 481.8,491.2 483.1,498.3 486.8,505.5 484.5,512.9 481.0,520.3 479.2,527.9"/>
<polyline class="bd" points="483.2,486.0 484.4,486.0 485.5,486.0 486.7,485.9 487.8,485.9 489.0,485.9 490.1,485.9"/>
<polyline class="bd" points="491.0,488.3 491.6,501.7"/>
<polyline class="bd" points="498.1,488.1 498.9,497.3"/>
<polyline class="bd" points="486.0,507.0 489.8,506.9 493.6,506.7 497.4,506.5 501.2,506.2 505.0,505.7 508.7,505.2"/>
<polyline class="bd" points="484.5,512.9 488.0,512.8 491.6,512.7 495.1,512.5 498.6,512.3 502.2,512.0 505.7,511.6"/>
<polyline class="bd" points="489.4,512.8 489.8,527.9"/>
<polyline class="bd" points="498.1,512.3 499.3,527.4"/>
<polyline class="bd" points="492.7,527.8 495.8,527.6 498.8,527.4 501.8,527.2 504.8,526.9 507.8,526.5 510.8,526.1"/>
<polyline class="bd" points="487.4,505.5 490.2,501.8 498.4,498.4 498.9,497.3 505.3,499.1 510.4,493.7"/>
<polyline class="bd" points="509.0,485.7 510.4,493.7"/>
<polyline class="bd" points="510.3,485.4 512.3,485.1 514.3,484.7 516.3,484.3 518.3,483.8 520.3,483.3 522.2,482.8"/>
<polyline class="bd" points="510.4,493.7 512.5,493.3 514.6,492.9 516.7,492.5 518.8,492.0 520.9,491.5 523.0,491.0"/>
<polyline class="bd" points="503.0,506.3 506.8,505.9 510.5,505.3 514.3,504.7 518.1,504.0 521.8,503.2 525.5,502.3"/>
<polyline class="bd" points="505.3,510.9 512.4,511.4 519.7,513.5"/>
<polyline class="bd" points="505.4,511.6 513.5,521.9"/>
<polyline class="bd" points="524.3,471.5 526.5,479.1"/>
<polyline class="bd" points="509.2,486.7 498.1,488.1 491.0,488.6"/>
<polyline class="bd" points="505.5,500.5 508.8,501.9 507.6,503.2 502.9,506.0"/>
<polyline class="bd" points="518.4,492.1 520.2,496.1 515.6,498.9 511.0,502.7 508.7,505.2"/>
<polyline class="bd" points="526.5,479.1 526.7,481.6 527.2,485.1 526.8,485.6"/>
<polyline class="bd" points="528.4,470.2 531.8,476.3 532.6,477.1"/>
<polyline class="bd" points="453.9,423.1 441.8,456.3"/>
<polyline class="bd" points="439.8,416.5 422.9,445.7"/>
<polyline class="bd" points="465.9,426.5 458.5,461.1"/>
<polyline class="bd" points="414.9,395.3 421.8,402.8 429.4,409.5 437.7,415.3 446.7,420.1 456.1,423.9 465.9,426.5"/>
<polyline class="bd" points="465.9,426.5 475.9,437.6 477.6,438.3 486.5,450.7 485.5,454.0 473.6,463.4"/>
<polyline class="cl" points="412.3,443.3 409.4,450.3 402.2,458.7 397.3,466.3 395.8,475.6 395.3,479.6 395.0,490.3 399.8,495.1 401.0,502.1 400.0,512.3 401.3,521.6 404.6,531.8 408.5,542.2 410.7,547.4 408.6,540.0 407.8,528.8 406.0,519.4 406.0,508.8 411.4,511.2 410.8,521.4 412.8,530.7 417.0,540.8 424.9,554.1 423.4,562.5 425.7,569.9 435.7,579.0 453.8,588.8 462.4,591.1 471.1,594.9"/>
<polyline class="cl" points="458.3,546.5 458.6,538.8 468.1,533.9 472.7,532.6 479.4,533.7 484.5,535.7 486.2,531.1 491.2,530.2 496.2,530.3 503.0,531.3 508.4,533.9 510.0,538.1 513.3,543.7 517.3,548.4 520.1,547.1 520.2,541.4 517.0,535.0 513.0,527.8 514.1,521.8 521.6,513.4 524.8,509.3 527.8,506.3 524.9,500.9 525.7,497.0 525.6,493.6 527.2,489.9 526.9,487.0 531.5,483.8 535.0,481.5 535.4,478.7 533.0,477.4 533.3,473.2 537.1,469.2 538.8,467.0 540.5,464.8 544.4,461.8 547.0,464.3 543.6,469.8 541.3,466.6 544.4,462.9"/>
<polyline class="cl" points="458.3,546.5 454.2,560.1 455.5,568.9 459.3,575.0 465.6,578.7 476.1,578.9 481.6,575.0 483.7,567.7 496.4,566.1 494.7,572.6 492.9,579.3 491.1,590.6 493.3,591.9"/>
<polyline class="cl" points="513.7,557.7 520.8,556.2 529.0,557.7 537.6,560.1 547.9,563.2 535.1,567.3 528.3,564.3 519.9,562.8 512.0,562.6 506.1,563.7 507.7,560.1 513.7,557.7"/>
<polyline class="cl" points="553.8,562.8 564.9,560.0 573.0,562.6 561.9,569.0 549.3,571.0 553.8,562.8"/>
<polyline class="cl" points="533.3,574.4 541.8,573.9 537.1,576.3 533.3,574.4"/>
<polyline class="cl" points="577.8,561.1 584.0,558.4 583.6,560.5 578.5,562.7 577.8,561.1"/>
<polyline class="cl" points="530.6,546.7 531.0,540.4 525.5,540.7 530.6,546.7"/>
<polyline class="cl" points="479.6,471.5 484.5,468.9 487.8,465.5 492.2,464.6 495.8,468.4 497.0,471.7 492.4,472.4 488.0,471.2 483.3,472.2 479.6,471.5"/>
<polyline class="cl" points="491.0,489.0 489.8,484.1 490.5,477.2 493.9,474.0 496.3,474.1 493.2,480.5 494.0,485.7 491.0,489.0"/>
<polyline class="cl" points="497.5,474.0 503.2,472.0 505.3,474.7 504.5,477.6 503.7,483.0 500.8,479.8 497.5,474.0"/>
<polyline class="cl" points="501.5,487.8 507.5,484.2 512.3,482.2 510.7,484.7 506.2,487.9 501.5,487.8"/>
<polyline class="cl" points="510.1,481.3 518.4,478.1 517.8,476.5 512.3,478.4 510.1,481.3"/>
<polyline class="cl" points="518.1,476.7 523.3,470.0 527.1,464.2 530.9,456.7 535.0,452.5 541.3,445.8 546.8,442.6 548.0,436.8 547.9,433.0 542.8,430.5 535.6,429.3 532.5,427.3 527.3,422.9 522.6,418.9"/>
<polyline class="cl" points="539.2,452.7 537.0,451.6 534.2,453.2 530.6,457.9"/>
<polyline class="cl" points="543.3,449.2 538.7,450.0 537.5,449.1 542.8,448.7 543.3,449.2"/>
<polyline class="cl" points="550.6,450.4 548.9,444.1 550.4,434.9 552.7,439.7 559.0,440.0 563.2,442.3 563.9,445.2 558.3,446.3 550.6,450.4"/>
<polyline class="cl" points="543.4,459.7 547.3,454.6 550.5,454.7 550.6,458.2 543.4,459.7"/>
<polyline class="cl" points="505.9,454.3 506.0,448.7 507.3,441.8 508.0,436.7 503.3,431.3 503.5,424.9 501.5,418.9 507.9,418.0 514.0,420.2 515.8,422.8 518.3,426.9 522.4,424.2 523.7,421.2"/>
<polyline class="cl" points="505.9,454.3 501.4,451.8 498.5,442.7 492.6,441.8 484.5,437.3 477.5,432.0 477.3,426.6 480.1,422.2 483.1,417.6 487.2,416.1 488.7,408.3 493.3,401.8 494.5,406.2 489.0,412.9 490.5,416.8 495.4,414.7 495.7,419.0 500.3,416.7"/>
<polyline class="cl" points="579.6,327.3 576.7,330.1 570.5,331.5 565.8,330.5 562.2,326.7 556.9,323.6 550.4,322.6 545.6,322.1 541.9,320.3 537.7,317.5 534.7,314.5 534.2,310.3 535.0,307.5 534.6,302.6 534.2,297.3 536.9,293.4 540.4,295.3 546.4,295.7 545.7,292.1 541.2,291.4 535.6,289.7 533.4,291.8 529.6,292.3 522.2,288.0 517.9,285.5 514.8,288.5 510.0,284.3 509.3,280.6 507.6,283.2 506.5,287.6 502.9,291.0 500.7,293.4 499.7,290.8 501.2,285.7 502.5,278.2 505.0,275.8 506.6,274.1 499.1,275.7 495.3,285.7 493.4,288.4 492.2,292.7 487.7,293.7 485.2,298.0 480.4,299.7 475.7,303.5 468.7,301.8 466.5,295.6 461.8,296.2 454.8,298.1 450.6,296.4 451.5,299.6 444.7,300.6 444.5,306.6 440.6,309.4 435.1,312.8 432.9,316.0 428.3,318.5 426.9,326.8 424.8,329.6 425.8,334.9 422.6,337.9 417.2,348.5 414.7,351.9"/>
<polyline class="cl" points="579.6,327.3 580.4,322.1 584.2,316.9 585.6,315.7 581.1,311.3 576.3,311.8 570.9,310.1 567.0,313.3 560.5,313.6 554.8,311.3 550.7,311.6 551.4,307.4 555.2,308.3 560.6,309.3 564.9,307.3 566.6,305.0 565.6,301.2 562.5,298.4 562.7,294.8 564.9,296.3 568.0,301.8 570.9,301.4 575.0,303.0 576.9,303.5 579.8,302.4 581.2,301.5 585.2,303.0 586.2,306.0 586.3,309.8 589.8,312.7 590.0,316.6 589.6,319.5 588.4,321.6 587.1,324.2 582.3,324.4 580.3,321.8 581.8,321.0 583.4,321.0 585.7,321.2 588.2,320.7 589.8,320.4 590.1,322.3 591.8,323.0 593.8,325.6 594.9,329.3 599.2,330.6 601.6,332.2 602.7,334.9 606.0,335.8 607.7,338.6 608.4,341.2 607.0,342.8 610.7,342.3 609.9,345.6 610.9,349.6 613.0,348.4 615.3,344.0 617.7,343.2 621.1,341.9 626.2,342.2 628.3,343.5 628.0,349.0 627.2,354.0 626.6,359.0 627.8,362.5 631.4,362.0 638.4,363.1 642.7,365.5 649.0,365.1 649.4,362.2 649.1,359.2 650.7,357.4 653.9,355.6 651.6,351.9 652.0,345.4 648.8,341.0 644.9,338.4 642.0,339.8 638.5,337.7 635.9,334.2 633.0,330.7 628.4,330.7 627.6,327.7 628.6,323.9 626.5,320.8 623.2,317.5 624.1,314.4 627.3,312.5 630.2,307.5 632.5,303.5 634.3,298.9 637.6,295.1 641.3,294.9 641.0,293.8 636.8,292.4 632.2,289.6 631.0,292.8 628.8,297.6 627.0,302.9 623.7,305.6 621.3,309.2 617.9,309.4 616.6,306.8 618.6,304.8 621.3,301.8 623.4,296.5 625.1,290.6 628.0,288.2 630.9,285.7 633.7,283.2 635.2,280.0 639.3,277.7 640.0,274.6 636.1,274.6 633.3,272.7 631.3,277.0 628.4,279.4 625.9,279.0 624.6,275.1 621.3,272.3 622.1,269.8 625.8,269.5 629.4,264.5 632.5,260.3 630.2,253.2 627.9,252.9 625.8,245.5 621.5,243.1 622.2,239.0 627.0,236.2 632.9,234.7 638.7,233.1 643.2,237.9 646.5,245.5 650.9,248.6 653.0,262.2 652.7,269.3 654.2,273.9 662.1,274.4 665.7,276.6 664.7,282.2 662.0,290.4 661.6,298.1 660.5,304.1 659.3,307.6 655.2,305.8 650.0,308.0 647.8,310.2 649.4,315.8 650.8,324.5 651.9,330.2 654.7,339.0 656.5,342.0 657.5,345.0 654.5,356.3 660.8,360.0 662.3,363.4 666.1,368.7 672.7,371.2 681.2,379.0 683.9,385.0 686.6,391.3 693.1,398.4 704.0,406.1 711.1,405.3 717.8,405.9 729.2,415.2"/>
<polyline class="cl" points="617.6,265.2 614.4,261.0 606.3,253.7 603.1,246.4 598.5,238.1 597.0,239.1 594.1,243.7 594.9,252.8 594.7,257.1 597.4,259.1 601.6,261.5 600.3,265.2 600.8,270.5 603.8,271.0 609.0,271.1 614.6,270.7 617.1,267.9 617.6,265.2"/>
<polyline class="cl" points="647.1,235.4 651.9,228.2 656.5,220.8 660.9,212.7 664.7,203.7 670.5,197.3 674.4,187.9 679.5,179.9 680.8,174.3"/>
<polyline class="cl" points="651.9,228.2 644.3,227.6 649.7,225.0 652.3,214.9 655.4,205.5 659.6,197.2 662.3,187.1 666.2,178.2 669.2,168.0 672.5,164.9"/>
<polyline class="cl" points="612.3,194.6 615.1,191.9 616.7,185.3 618.7,179.1 618.5,171.1 611.5,164.2 601.4,163.7 599.1,166.5 599.0,169.3 607.2,176.2 609.0,184.1 608.4,190.3 612.3,194.6"/>
<polyline class="cl" points="600.8,163.3 598.3,151.9 596.8,146.1 608.4,140.7 621.4,136.0 634.6,139.8 649.2,142.7"/>
<polyline class="cl" points="597.5,168.3 584.7,153.6 570.7,145.4 567.5,138.6 564.5,130.7 552.8,119.8 554.8,109.1 555.1,92.6"/>
<polyline class="cl" points="566.4,236.0 564.7,232.6 567.8,228.5 574.3,229.3 575.0,221.0 578.2,214.6 580.3,207.2 583.6,205.1 591.5,211.4 590.2,217.4 583.5,221.0 584.0,228.5 581.4,233.2 580.0,236.6 575.9,237.5 571.9,238.4 566.4,236.0"/>
<polyline class="cl" points="605.1,351.0 604.9,346.4 603.7,342.1 603.4,338.4 602.4,336.1 601.1,336.2 599.5,335.8 596.5,335.7 595.0,338.6 593.0,339.4 591.1,341.2 588.2,341.9 586.5,343.6 584.9,343.4 581.8,342.1 581.0,344.9 578.3,343.9 578.3,347.2 581.4,348.8 584.5,349.5 587.7,349.1 589.4,347.8 590.9,345.5 592.9,344.7 595.1,345.0 595.2,347.9 596.5,348.0 598.5,347.4 600.3,349.5 601.3,345.7 601.8,347.6 602.7,348.3 605.1,351.0"/>
<polyline class="cl" points="599.4,358.9 597.6,359.8 594.6,358.0 590.7,357.7 588.2,353.6 589.2,350.0 592.4,350.3 595.6,350.7 598.2,351.5 599.4,358.9"/>
<polyline class="cl" points="558.7,366.0 556.2,369.0 553.5,369.7 550.7,368.5 548.7,365.6 551.4,360.8 551.6,357.0 555.0,356.1 558.3,358.1 559.6,363.4 558.7,366.0"/>
<polyline class="cl" points="549.4,400.6 545.0,402.8 540.2,403.0 535.0,401.3 531.0,398.6 526.7,396.1 523.6,390.8 522.5,385.9 518.2,385.4 514.8,382.3 510.1,378.4 503.8,375.2 497.0,373.4 494.6,371.1 495.9,365.9 496.2,360.9 498.6,355.8 500.0,349.9 503.0,347.6 508.5,345.4 512.4,347.5 517.8,350.1 523.3,352.4 528.6,355.1 533.5,358.8 537.7,360.5 537.9,363.9 541.0,367.8 540.1,372.4 541.8,378.3 542.0,383.1 543.1,389.1 545.2,393.7 549.4,400.6"/>
<polyline class="cl" points="519.0,332.3 514.6,333.1 512.3,330.0 514.3,327.0 518.6,325.9 522.3,327.4 521.4,329.8 519.0,332.3"/>
<polyline class="cl" points="515.8,290.9 514.5,295.4 510.7,300.1 505.1,301.8 498.8,303.7 501.2,301.5 507.9,300.0 512.1,297.4 514.5,291.9 515.8,290.9"/>
<polyline class="cl" points="414.7,351.9 411.2,349.3 409.4,347.6 412.2,344.1 409.0,336.4 402.8,338.3 398.6,330.0 396.4,323.5 396.1,317.0 394.4,311.5 389.9,310.1 387.1,308.3 382.5,301.9 376.4,295.3 375.9,292.2 380.9,292.9 387.0,295.2 392.3,298.9 396.0,302.3 398.6,306.9 401.9,313.7 405.7,310.3 404.8,301.8 403.5,296.0 406.4,292.1 410.5,283.3 408.7,275.4 406.3,266.1 398.9,269.7 393.2,263.8 386.3,256.6 383.3,244.6 385.5,232.8 388.7,227.6 388.6,216.3 387.5,212.6 378.8,210.3 375.1,203.9 380.6,198.6 384.4,203.7 386.3,207.7 392.1,207.0 395.9,209.6 402.9,208.4 401.0,203.3 405.8,196.4 400.9,197.1 395.0,198.6 398.1,192.4 398.9,187.7 395.2,185.5 386.9,181.7 383.3,177.1 381.1,171.6 381.2,162.3 381.3,152.9 385.1,143.9 393.0,135.4 403.0,126.7 403.1,121.2 410.5,124.0 415.7,122.2 420.0,109.6 409.5,101.1 401.9,96.4"/>
<polyline class="cl" points="398.9,273.8 395.0,272.1 389.4,268.6 383.7,262.5 378.2,255.9 377.4,259.7 382.8,266.5 392.4,270.1 395.8,271.0 398.9,273.8"/>
<polyline class="cl" points="377.0,254.7 372.6,254.7 365.5,257.5 366.1,250.8 367.8,244.5 371.4,245.1 373.2,247.3 374.4,252.4 377.0,254.7"/>
<polyline class="cl" points="368.4,243.3 363.2,244.2 358.4,238.7 354.2,232.4 351.3,227.2 353.8,222.1 356.9,219.2 355.8,213.9 360.6,213.3 364.7,210.5 368.7,205.8 367.8,212.6 362.6,219.2 362.7,225.4 364.2,226.5 361.6,231.0 365.2,238.9 368.4,243.3"/>
<polyline class="cl" points="368.0,204.5 368.7,199.5 363.3,195.5 360.0,196.8 363.2,204.2 368.0,204.5"/>
<polyline class="cl" points="362.7,206.1 362.8,210.7 360.1,213.3 358.9,209.8 361.1,206.2 362.7,206.1"/>
<polyline class="cl" points="374.0,158.6 369.3,150.3 369.1,145.5 373.6,147.7 374.9,156.6 374.0,158.6"/>
<polyline class="cl" points="403.7,119.5 399.9,118.6 403.5,111.7 408.8,114.0 403.7,119.5"/>
<polyline class="cl" points="356.4,135.5 351.6,128.0 350.6,120.5 358.7,121.0 362.0,131.1 356.4,135.5"/>
<polyline class="cl" points="382.9,370.1 387.9,374.1 393.4,377.7 398.4,375.6 395.9,368.1 399.1,365.9 402.8,359.4 407.2,360.4 411.4,363.5 411.5,358.6 413.6,354.1 419.2,357.7 423.7,353.6 430.2,357.7 434.1,360.9 433.8,365.9 435.1,369.9 438.0,376.6 439.6,379.4 440.3,383.2 444.9,384.6 447.4,384.8 450.4,389.6 458.7,396.9 462.1,400.6 469.2,400.5 475.3,404.8 479.0,402.2 481.3,399.3 485.6,403.9 489.8,399.2 493.9,401.7 494.8,406.2 490.1,409.8"/>
<polyline class="cl" points="382.9,370.1 386.4,372.8 394.1,379.2 398.4,381.0 402.7,382.5 407.2,381.0 410.2,381.9 408.2,385.8 411.6,388.2 412.1,391.6 415.3,398.1 415.5,404.5 413.9,408.3 413.8,414.8 414.4,419.7 413.4,425.2 412.5,432.8 413.0,437.3 412.8,443.3"/>
<polyline class="cl" points="519.0,413.1 517.1,408.9 517.6,400.1 511.9,397.8 506.6,393.6 501.3,390.7 494.6,386.4 489.5,386.6 488.2,391.8 486.6,397.9 490.8,399.1 493.5,403.3 499.8,405.2 500.2,412.9 508.8,413.8 519.0,413.1"/>
<polyline class="cl" points="492.7,377.7 494.3,371.2 494.9,364.7 494.8,358.3 491.5,358.2 488.3,360.6 484.5,365.3 485.6,369.7 484.5,375.6 487.9,378.4 492.7,377.7"/>
<polyline class="cl" points="472.7,399.8 474.5,395.5 471.6,387.2 465.8,385.3 459.0,387.0 456.9,391.0 459.3,395.6 467.3,399.1 472.7,399.8"/>
<polyline class="cl" points="457.3,386.1 457.4,379.1 461.1,378.0 463.5,380.3 461.2,384.8 457.3,386.1"/>
<polyline class="cl" points="492.4,383.8 491.6,379.4 484.5,378.5 480.1,381.3 482.1,384.4 492.4,383.8"/>
<polyline class="cl" points="476.9,382.3 477.6,377.9 474.0,375.6 469.1,377.0 469.5,380.3 476.9,382.3"/>
<polyline class="cl" points="482.7,390.4 484.5,386.5 479.4,387.2 479.1,390.1 482.7,390.4"/>
<polyline class="cl" points="492.7,417.2 492.1,411.1 488.4,412.9 489.2,416.6 492.7,417.2"/>
<polyline class="cl" points="379.2,365.3 378.7,367.3"/>
<polyline class="cl" points="376.8,361.9 376.2,364.0"/>
<polyline class="cl" points="373.8,358.5 373.2,360.6"/>
<polyline class="cl" points="370.4,353.0 369.6,355.1"/>
<polyline class="cl" points="369.1,347.1 368.3,349.2"/>
<polyline class="cl" points="367.9,341.0 367.0,343.1"/>
<polyline class="cl" points="368.9,335.0 367.9,337.0"/>
<polyline class="cl" points="371.6,329.1 370.4,331.0"/>
<polyline class="cl" points="373.4,324.4 372.2,326.2"/>
<polyline class="cl" points="528.1,86.5 517.6,94.1 507.5,99.7 497.6,105.5 496.4,111.9 490.4,113.8 486.5,112.9 482.5,115.0 478.7,117.2 477.5,115.1 475.3,109.6 470.1,103.4 465.9,97.0 464.9,90.4 461.7,88.3 456.3,91.2 451.3,90.4 449.7,85.1"/>
<polyline class="bd" points="658.3,345.1 669.6,342.9 676.9,352.5 679.0,368.8 684.1,369.5"/>
<polyline class="bd" points="649.2,314.1 664.1,313.8 673.9,307.3"/>
<polyline class="bd" points="673.9,307.3 690.0,302.8 697.0,295.8 698.8,293.8"/>
<polyline class="bd" points="653.7,260.1 688.7,243.8 698.2,243.9"/>
<polyline class="bd" points="688.7,243.8 664.7,203.7"/>
<polyline class="bd" points="698.7,293.5 698.0,281.8 698.3,265.4 698.2,243.9"/>
<polyline class="bd" points="722.1,321.6 710.6,334.3 699.3,357.8 685.6,369.8"/>
<polyline class="bd" points="737.3,363.3 732.8,362.9 696.5,357.5 695.8,363.8 685.6,369.8"/>
<polyline class="bd" points="702.8,405.7 706.9,390.3 699.9,388.7 688.6,382.4 690.8,370.6 684.1,369.5"/>
<polyline class="bd" points="722.1,321.6 698.7,293.5"/>
<polyline class="bd" points="698.2,243.9 718.3,239.8 732.2,236.4"/>
<polyline class="bd" points="740.8,339.0 738.0,323.5 722.1,321.6"/>
<polyline class="bd" points="735.2,392.3 728.9,388.7 737.3,363.3"/>
<polyline class="bd" points="644.1,227.3 633.9,226.4 628.4,222.5 624.3,200.6 617.4,193.9"/>
<polyline class="bd" points="602.7,221.7 606.4,215.0 610.5,208.5 611.7,199.2 612.3,194.6"/>
<polyline class="bd" points="619.8,240.7 608.8,227.1"/>
<polyline class="bd" points="607.5,226.7 617.1,223.7 624.7,226.3 633.4,230.8"/>
<polyline class="bd" points="665.8,171.1 653.1,158.2 631.2,151.3 634.6,139.8"/>
<polyline class="bd" points="611.5,152.9 606.4,159.6 618.2,170.9"/>
<polyline class="bd" points="631.4,343.6 628.7,339.0 630.7,335.2 631.6,330.8"/>
<polyline class="bd" points="631.4,362.0 632.3,355.8 635.6,357.3 640.0,359.5 644.4,358.6 648.9,360.4"/>
<polyline class="bd" points="602.7,333.8 605.7,329.5 607.0,326.1 608.2,321.6 612.9,321.9 618.0,324.7 619.1,322.5 624.3,320.3 625.7,320.4"/>
<polyline class="bd" points="594.4,325.1 598.7,325.4 602.1,326.6 604.4,326.0 607.0,325.3"/>
<polyline class="bd" points="589.3,323.2 588.9,320.8"/>
<polyline class="bd" points="589.7,312.2 594.2,310.4 598.7,308.4"/>
<polyline class="bd" points="598.7,308.4 602.4,313.5 605.8,309.2 607.5,309.5 611.1,309.8 612.4,316.4 612.6,317.6 612.9,321.9"/>
<polyline class="bd" points="598.7,308.4 600.1,304.8 599.7,300.2 600.7,297.9 599.3,291.5"/>
<polyline class="bd" points="585.5,303.0 583.4,297.4 584.3,295.6 589.3,294.1 591.4,292.3 594.4,290.1 599.4,290.9"/>
<polyline class="bd" points="604.9,302.2 607.8,301.5 611.6,302.3 614.0,307.4 613.4,311.1 613.9,315.0"/>
<polyline class="bd" points="615.7,315.6 617.8,317.9 618.8,322.5"/>
<polyline class="bd" points="601.7,289.5 607.2,290.7 610.7,292.3 612.9,295.3 612.2,300.9"/>
<polyline class="bd" points="598.5,281.9 597.7,278.8 601.9,276.0 604.9,274.4 603.8,271.0"/>
<polyline class="bd" points="602.9,289.0 600.8,285.0 598.5,281.9"/>
<polyline class="bd" points="615.3,284.3 614.4,279.8 612.9,276.4 610.0,273.7 609.9,270.6"/>
<polyline class="bd" points="623.7,280.2 621.4,276.6 618.8,272.6 615.8,269.2"/>
<polyline class="bd" points="618.8,272.6 621.9,272.0"/>
<polyline class="bd" points="614.3,293.3 618.1,291.7 623.3,290.7"/>
<polyline class="bd" points="570.7,293.7 574.7,291.1 576.7,292.8 584.0,295.7"/>
<polyline class="bd" points="572.4,299.3 570.9,294.0"/>
<polyline class="bd" points="578.9,302.7 575.7,294.5"/>
<polyline class="bd" points="537.3,309.7 541.4,307.8 546.1,303.7 551.3,300.4 555.5,295.5 562.3,298.0"/>
<polyline class="bd" points="575.3,320.5 568.8,320.3 561.3,322.2 556.3,321.1 549.8,320.3 544.7,318.3 542.3,316.8 542.9,314.2 540.4,312.3 537.8,311.9 536.3,310.9 537.3,309.7"/>
<polyline class="bd" points="549.9,309.8 546.8,311.8 544.0,316.3"/>
<polyline class="bd" points="574.7,291.1 572.8,285.9 579.3,279.8 580.4,275.5 577.3,272.8 576.9,261.5 578.6,259.5 586.6,258.7 588.2,258.0"/>
<polyline class="bd" points="591.4,292.3 585.0,279.8 582.0,278.1"/>
<polyline class="bd" points="542.5,238.6 541.7,233.6 552.3,242.1 558.2,248.6 565.8,248.7 571.9,245.2 570.8,239.7 573.9,237.9"/>
<polyline class="bd" points="542.5,238.6 529.7,242.1 520.5,240.0 515.3,234.9 510.2,231.9 505.0,222.5 499.0,221.0 489.9,215.9"/>
<polyline class="bd" points="569.6,212.8 560.4,215.2 555.9,222.5 551.1,213.8 544.5,201.0 539.7,195.3 524.5,199.4 511.2,195.2 508.5,202.8 502.1,205.2 494.7,209.5 491.0,214.3"/>
<polyline class="bd" points="582.0,205.3 573.2,202.4 566.5,194.1 567.1,188.1 550.3,187.6 546.9,184.6 536.8,182.8 537.9,179.3"/>
<polyline class="bd" points="567.1,188.1 571.9,184.4 573.2,174.3 578.7,169.8 578.4,163.9 576.8,156.3 585.3,152.5"/>
<polyline class="bd" points="578.7,169.8 569.9,163.9 550.9,164.1 545.9,170.4 541.7,172.8 538.5,177.6 529.0,178.5"/>
<polyline class="bd" points="562.9,136.8 555.9,142.9 551.5,149.8 539.6,154.2 533.2,162.3 521.2,169.1"/>
<polyline class="bd" points="520.2,171.1 517.5,160.7 513.7,150.4 498.5,138.8 488.7,136.4 478.9,138.4 459.9,139.0 453.7,132.6 454.3,124.2 447.3,116.8"/>
<polyline class="bd" points="489.3,214.2 482.4,206.1 475.8,200.9 468.1,193.0 459.0,194.3 445.7,194.3 432.1,202.4 433.1,209.1 426.8,215.2 418.4,224.1 424.3,225.8 429.6,229.8 435.3,228.5 447.2,224.3 460.1,224.3 467.8,220.2 480.3,218.2 488.8,215.9"/>
<polyline class="bd" points="429.6,229.8 429.1,243.1 421.3,248.8 416.1,246.6 395.5,249.1 390.1,237.8 388.7,227.6"/>
<polyline class="bd" points="388.7,227.6 391.9,220.4 396.5,210.5"/>
<polyline class="bd" points="630.3,266.3 632.9,263.4"/>
<polyline class="bd" points="597.0,239.1 594.9,234.2 596.9,228.6 602.7,221.7"/>
<polyline class="bd" points="597.0,239.1 594.4,246.8 589.7,233.8 587.1,229.0 584.2,226.3"/>
<polyline class="bd" points="596.9,228.6 592.3,219.3 589.3,221.4"/>
<polyline class="bd" points="459.9,139.0 472.7,114.0 475.3,109.6"/>
<polyline class="bd" points="491.7,132.4 485.2,130.3 477.1,126.3 478.8,122.2 490.3,115.9"/>
<polyline class="bd" points="447.3,116.8 441.9,109.0 450.4,96.5 447.3,90.1 444.4,85.9"/>
<polyline class="bd" points="438.1,120.7 425.6,119.3 423.6,126.5 416.8,124.1"/>
<polyline class="bd" points="443.5,111.0 429.9,102.6 416.0,92.0"/>
<polyline class="bd" points="491.0,132.4 485.2,131.1 484.5,127.0 476.0,126.8 476.2,123.1 477.6,120.1 479.5,118.0 476.7,116.0 475.4,111.8"/>
<polyline class="bd" points="491.0,132.4 490.1,126.3 491.3,123.4 488.4,118.0 488.0,113.7"/>
<polyline class="bd" points="459.9,139.0 463.1,135.4 466.1,129.1 469.4,122.6 471.4,118.3 475.4,111.8"/>
<polyline class="bd" points="443.8,110.5 451.0,106.7 453.0,99.7 447.2,92.4 447.8,87.7 446.6,85.5"/>
<polyline class="bd" points="440.3,115.9 443.8,110.5"/>
<polyline class="bd" points="443.8,110.5 439.5,107.3 437.8,100.9 431.9,101.7 426.0,104.4 421.4,100.1 416.6,94.3 416.1,89.1"/>
<polyline class="bd" points="437.6,120.4 433.3,117.4 428.4,114.2 427.4,110.0 421.5,107.0 416.9,103.2 411.4,100.1 407.0,94.7"/>
<polyline class="bd" points="437.6,120.4 429.7,124.0 425.4,126.0 420.4,125.2 414.7,123.0"/>
<polyline class="bd" points="440.3,115.9 437.6,120.4"/>
<polyline class="bd" points="514.1,150.0 518.5,144.4 507.7,135.6 497.1,132.3 491.4,132.4 490.8,137.6 498.5,138.8"/>
<polyline class="bd" points="488.1,133.6 477.3,133.6 478.9,138.4"/>
<polyline class="bd" points="426.3,87.0 416.0,92.0"/>
<rect x="416.8" y="94.0" width="7" height="11" fill="#fff"/><text x="420.3" y="103.5" text-anchor="middle" font-size="11">0</text>
<rect x="426.0" y="131.7" width="7" height="11" fill="#fff"/><text x="429.5" y="141.2" text-anchor="middle" font-size="11">2</text>
<rect x="402.5" y="203.9" width="15" height="11" fill="#fff"/><text x="410.0" y="213.4" text-anchor="middle" font-size="11">−2</text>
<rect x="422.3" y="326.5" width="7" height="11" fill="#fff"/><text x="425.8" y="336.0" text-anchor="middle" font-size="11">0</text>
<rect x="487.8" y="154.5" width="7" height="11" fill="#fff"/><text x="491.3" y="164.0" text-anchor="middle" font-size="11">0</text>
<rect x="504.3" y="157.3" width="7" height="11" fill="#fff"/><text x="507.8" y="166.8" text-anchor="middle" font-size="11">2</text>
<rect x="606.5" y="125.8" width="15" height="11" fill="#fff"/><text x="614.0" y="135.3" text-anchor="middle" font-size="11">−2</text>
<rect x="546.1" y="166.5" width="15" height="11" fill="#fff"/><text x="553.6" y="176.0" text-anchor="middle" font-size="11">−2</text>
<rect x="545.4" y="186.7" width="15" height="11" fill="#fff"/><text x="552.9" y="196.2" text-anchor="middle" font-size="11">−4</text>
<rect x="576.1" y="215.5" width="15" height="11" fill="#fff"/><text x="583.6" y="225.0" text-anchor="middle" font-size="11">−2</text>
<rect x="542.0" y="248.9" width="15" height="11" fill="#fff"/><text x="549.5" y="258.4" text-anchor="middle" font-size="11">−8</text>
<rect x="544.3" y="300.9" width="15" height="11" fill="#fff"/><text x="551.8" y="310.4" text-anchor="middle" font-size="11">−4</text>
<rect x="707.5" y="280.8" width="7" height="11" fill="#fff"/><text x="711.0" y="290.3" text-anchor="middle" font-size="11">0</text>
<rect x="313.9" y="390.3" width="15" height="11" fill="#fff"/><text x="321.4" y="399.8" text-anchor="middle" font-size="11">−2</text>
<rect x="363.7" y="387.7" width="7" height="11" fill="#fff"/><text x="367.2" y="397.2" text-anchor="middle" font-size="11">0</text>
<rect x="358.9" y="397.5" width="7" height="11" fill="#fff"/><text x="362.4" y="407.0" text-anchor="middle" font-size="11">0</text>
<rect x="378.3" y="357.3" width="7" height="11" fill="#fff"/><text x="381.8" y="366.8" text-anchor="middle" font-size="11">6</text>
<rect x="372.8" y="366.5" width="7" height="11" fill="#fff"/><text x="376.3" y="376.0" text-anchor="middle" font-size="11">4</text>
<rect x="424.1" y="351.8" width="7" height="11" fill="#fff"/><text x="427.6" y="361.3" text-anchor="middle" font-size="11">2</text>
<rect x="449.4" y="387.7" width="15" height="11" fill="#fff"/><text x="456.9" y="397.2" text-anchor="middle" font-size="11">−2</text>
<rect x="394.8" y="462.5" width="7" height="11" fill="#fff"/><text x="398.3" y="472.0" text-anchor="middle" font-size="11">0</text>
<rect x="417.9" y="482.9" width="7" height="11" fill="#fff"/><text x="421.4" y="492.4" text-anchor="middle" font-size="11">2</text>
<rect x="469.2" y="577.1" width="7" height="11" fill="#fff"/><text x="472.7" y="586.6" text-anchor="middle" font-size="11">2</text>
<rect x="489.7" y="376.7" width="7" height="11" fill="#fff"/><text x="493.2" y="386.2" text-anchor="middle" font-size="11">0</text>
<rect x="550.1" y="355.5" width="7" height="11" fill="#fff"/><text x="553.6" y="365.0" text-anchor="middle" font-size="11">0</text>
<rect x="601.4" y="380.4" width="7" height="11" fill="#fff"/><text x="604.9" y="389.9" text-anchor="middle" font-size="11">0</text>
<rect x="591.9" y="392.1" width="15" height="11" fill="#fff"/><text x="599.4" y="401.6" text-anchor="middle" font-size="11">−2</text>
<rect x="533.3" y="392.1" width="15" height="11" fill="#fff"/><text x="540.8" y="401.6" text-anchor="middle" font-size="11">−0</text>
<rect x="505.5" y="402.4" width="7" height="11" fill="#fff"/><text x="509.0" y="411.9" text-anchor="middle" font-size="11">2</text>
<rect x="553.8" y="562.4" width="7" height="11" fill="#fff"/><text x="557.3" y="571.9" text-anchor="middle" font-size="11">0</text>
<rect x="473.5" y="234.0" width="15" height="11" fill="#fff"/><text x="481.0" y="243.5" text-anchor="middle" font-size="11">−1</text>
<rect x="658.0" y="154.0" width="7" height="11" fill="#fff"/><text x="661.5" y="163.5" text-anchor="middle" font-size="11">0</text>
</g>
<line x1="228" y1="339" x2="741" y2="339" stroke="#000" stroke-width="2"/>
<line x1="485" y1="83" x2="485" y2="595" stroke="#000" stroke-width="2"/>
<circle cx="484.5" cy="339" r="255.5" fill="none" stroke="#000" stroke-width="2.2"/>
<rect x="465" y="85.5" width="275" height="17.5" fill="#fff"/>
<text x="469.5" y="97" font-size="12.4" textLength="266" lengthAdjust="spacingAndGlyphs">NOAA–CIRES/Climate Diagnostics Center</text>
<!-- colorbar -->
<g stroke="#000" stroke-width="1">
<polygon points="812.5,105 821.5,70 830.5,105" fill="#ff0000"/>
<rect x="812.5" y="105" width="18" height="34.93" fill="#ff6400"/>
<rect x="812.5" y="139.93" width="18" height="34.93" fill="#ffa000"/>
<rect x="812.5" y="174.86" width="18" height="34.93" fill="#ffdc00"/>
<rect x="812.5" y="209.79" width="18" height="34.93" fill="#ffdc00"/>
<rect x="812.5" y="244.72" width="18" height="34.93" fill="#c8dc00"/>
<rect x="812.5" y="279.65" width="18" height="34.93" fill="#5ae000"/>
<rect x="812.5" y="314.58" width="18" height="34.93" fill="#ffffff"/>
<rect x="812.5" y="349.51" width="18" height="34.93" fill="#ffffff"/>
<rect x="812.5" y="384.44" width="18" height="34.93" fill="#00c8f0"/>
<rect x="812.5" y="419.37" width="18" height="34.93" fill="#0064d2"/>
<rect x="812.5" y="454.3" width="18" height="34.93" fill="#2800dc"/>
<rect x="812.5" y="489.23" width="18" height="34.93" fill="#7800dc"/>
<rect x="812.5" y="524.16" width="18" height="34.93" fill="#c800c8"/>
<rect x="812.5" y="559.09" width="18" height="34.93" fill="#960096"/>
<polygon points="812.5,594 821.5,629 830.5,594" fill="#500050"/>
</g>
<g font-size="14">
<text x="835" y="110">8</text>
<text x="835" y="145">7</text>
<text x="835" y="180">6</text>
<text x="835" y="215">4</text>
<text x="835" y="250">3</text>
<text x="835" y="285">2</text>
<text x="835" y="320">1</text>
<text x="835" y="355">0</text>
<text x="835" y="390">−1</text>
<text x="835" y="425">−2</text>
<text x="835" y="459">−3</text>
<text x="835" y="494">−5</text>
<text x="835" y="529">−6</text>
<text x="835" y="564">−7</text>
<text x="835" y="599">−8</text>
</g>
<g font-size="14">
<text style="white-space:pre" x="272.5" y="633" textLength="423.5" lengthAdjust="spacingAndGlyphs">SEA LEVEL PRESSSUE (mb)    31–DAY ANOMALY FOR:</text>
<text x="328" y="650" textLength="310.5" lengthAdjust="spacingAndGlyphs">Tue MAY 01 2001 – Thu MAY 31 2001</text>
<text x="374.5" y="673.5" textLength="220" lengthAdjust="spacingAndGlyphs">NCEP OPERATIONAL DATASET</text>
</g>
</svg>
</body></html>
